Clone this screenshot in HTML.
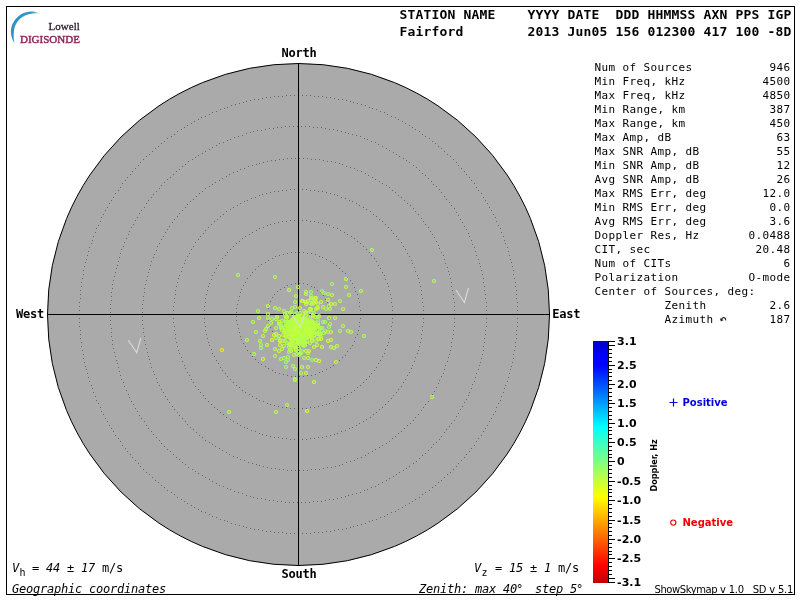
<!DOCTYPE html>
<html lang="en"><head><meta charset="utf-8"><title>Skymap - Fairford</title>
<style>
html,body{margin:0;padding:0;background:#fff;}
body{width:800px;height:600px;overflow:hidden;position:relative;}
svg{position:absolute;left:0;top:0;display:block;will-change:transform;}
text{white-space:pre;}
.hd{font-family:"DejaVu Sans Mono","Liberation Mono",monospace;font-weight:bold;font-size:13px;fill:#000;}
.nsew{font-family:"DejaVu Sans Mono","Liberation Mono",monospace;font-weight:bold;font-size:12px;fill:#000;}
.tb{font-family:"DejaVu Sans Mono","Liberation Mono",monospace;font-size:11px;fill:#000;}
.it{font-family:"DejaVu Sans Mono","Liberation Mono",monospace;font-size:12px;font-style:italic;fill:#000;}
.rg{font-family:"DejaVu Sans Mono","Liberation Mono",monospace;font-size:12px;fill:#000;}
.sb{font-family:"DejaVu Sans Mono","Liberation Mono",monospace;font-size:10px;fill:#000;}
.cb{font-family:"DejaVu Sans","Liberation Sans",sans-serif;font-weight:bold;font-size:11px;fill:#000;}
.lg{font-family:"DejaVu Sans","Liberation Sans",sans-serif;font-weight:bold;font-size:10px;}
.ft{font-family:"DejaVu Sans","Liberation Sans",sans-serif;font-size:10px;letter-spacing:-0.23px;fill:#000;}
.dp{font-family:"DejaVu Sans Condensed","DejaVu Sans","Liberation Sans",sans-serif;font-weight:bold;font-size:9px;fill:#000;}
.lw{font-family:"Liberation Serif",serif;font-size:11px;}
.pt circle{fill:none;stroke-width:1.15;}
</style></head><body>
<svg width="800" height="600" viewBox="0 0 800 600">
<rect x="0" y="0" width="800" height="600" fill="#ffffff"/>
<rect x="6.5" y="6.5" width="788" height="588" fill="none" stroke="#000" stroke-width="1" shape-rendering="crispEdges"/>
<g id="logo">
<defs><linearGradient id="sw" x1="0" y1="0" x2="1" y2="0"><stop offset="0" stop-color="#2f93c2"/><stop offset="0.75" stop-color="#3398c6"/><stop offset="1" stop-color="#8cc8e2"/></linearGradient></defs>
<path d="M38.9,13.3 C33,10.2 25.5,11 20,14.9 C14,19.2 10.4,26 10.9,32.5 C11.2,36.5 12.4,40 14.4,43 C13.7,39.5 13.5,35.5 13.9,31.5 C14.5,25.5 17.2,20.6 21.7,17.4 C26.5,13.9 32.5,13 38.9,13.3 Z" fill="url(#sw)"/>
<text class="lw" x="48.6" y="30.2" fill="#33232e" stroke="#33232e" stroke-width="0.3">Lowell</text>
<text class="lw" x="20" y="42.5" fill="#8c2458" stroke="#8c2458" stroke-width="0.45">DIGISONDE</text>
</g>
<text class="hd" x="399.4 407.4 415.4 423.4 431.4 439.4 447.4 455.4 463.4 471.4 479.4 487.4 495.4 503.4 511.4 519.4 527.4 535.4 543.4 551.4 559.4 567.4 575.4 583.4 591.4 599.4 607.4 615.4 623.4 631.4 639.4 647.4 655.4 663.4 671.4 679.4 687.4 695.4 703.4 711.4 719.4 727.4 735.4 743.4 751.4 759.4 767.4 775.4 783.4" y="19">STATION NAME    YYYY DATE  DDD HHMMSS AXN PPS IGP</text>
<text class="hd" x="399.4 407.4 415.4 423.4 431.4 439.4 447.4 455.4 463.4 471.4 479.4 487.4 495.4 503.4 511.4 519.4 527.4 535.4 543.4 551.4 559.4 567.4 575.4 583.4 591.4 599.4 607.4 615.4 623.4 631.4 639.4 647.4 655.4 663.4 671.4 679.4 687.4 695.4 703.4 711.4 719.4 727.4 735.4 743.4 751.4 759.4 767.4 775.4 783.4" y="36">Fairford        2013 Jun05 156 012300 417 100 -8D</text>
<circle cx="298.5" cy="314.5" r="251" fill="#aaaaaa" stroke="#000" stroke-width="1"/>
<path d="M329,314.5h1M329,318.5h1M328,322.5h1M327,326.5h1M325,329.5h1M323,333.5h1M320,336.5h1M317,338.5h1M314,341.5h1M311,342.5h1M307,344.5h1M303,345.5h1M299,345.5h1M295,345.5h1M291,344.5h1M287,343.5h1M284,341.5h1M280,339.5h1M277,337.5h1M274,334.5h1M272,331.5h1M270,327.5h1M269,324.5h1M268,320.5h1M267,316.5h1M267,312.5h1M268,308.5h1M269,304.5h1M270,301.5h1M272,297.5h1M274,294.5h1M277,291.5h1M280,289.5h1M284,287.5h1M287,285.5h1M291,284.5h1M295,283.5h1M299,283.5h1M303,283.5h1M307,284.5h1M311,286.5h1M314,287.5h1M317,290.5h1M320,292.5h1M323,295.5h1M325,299.5h1M327,302.5h1M328,306.5h1M329,310.5h1M360,314.5h1M360,318.5h1M359,322.5h1M359,326.5h1M358,330.5h1M357,334.5h1M355,337.5h1M354,341.5h1M352,345.5h1M350,348.5h1M347,351.5h1M345,355.5h1M342,357.5h1M339,360.5h1M336,363.5h1M333,365.5h1M330,367.5h1M326,369.5h1M322,371.5h1M319,372.5h1M315,374.5h1M311,375.5h1M307,375.5h1M303,376.5h1M299,376.5h1M295,376.5h1M291,376.5h1M287,375.5h1M283,374.5h1M279,373.5h1M275,372.5h1M272,370.5h1M268,368.5h1M265,366.5h1M261,364.5h1M258,362.5h1M255,359.5h1M252,356.5h1M250,353.5h1M247,350.5h1M245,346.5h1M243,343.5h1M241,339.5h1M240,336.5h1M239,332.5h1M238,328.5h1M237,324.5h1M236,320.5h1M236,316.5h1M236,312.5h1M236,308.5h1M237,304.5h1M238,300.5h1M239,296.5h1M240,292.5h1M241,289.5h1M243,285.5h1M245,282.5h1M247,278.5h1M250,275.5h1M252,272.5h1M255,269.5h1M258,266.5h1M261,264.5h1M265,262.5h1M268,260.5h1M272,258.5h1M275,256.5h1M279,255.5h1M283,254.5h1M287,253.5h1M291,252.5h1M295,252.5h1M299,252.5h1M303,252.5h1M307,253.5h1M311,253.5h1M315,254.5h1M319,256.5h1M322,257.5h1M326,259.5h1M330,261.5h1M333,263.5h1M336,265.5h1M339,268.5h1M342,271.5h1M345,273.5h1M347,277.5h1M350,280.5h1M352,283.5h1M354,287.5h1M355,291.5h1M357,294.5h1M358,298.5h1M359,302.5h1M359,306.5h1M360,310.5h1M392,314.5h1M392,318.5h1M392,322.5h1M391,326.5h1M391,330.5h1M390,334.5h1M389,338.5h1M388,342.5h1M387,345.5h1M385,349.5h1M384,353.5h1M382,356.5h1M380,360.5h1M378,363.5h1M376,367.5h1M374,370.5h1M371,373.5h1M369,376.5h1M366,379.5h1M363,382.5h1M360,385.5h1M357,387.5h1M354,390.5h1M351,392.5h1M347,394.5h1M344,396.5h1M340,398.5h1M337,400.5h1M333,401.5h1M329,403.5h1M326,404.5h1M322,405.5h1M318,406.5h1M314,407.5h1M310,407.5h1M306,408.5h1M302,408.5h1M298,408.5h1M294,408.5h1M290,408.5h1M286,407.5h1M282,407.5h1M278,406.5h1M274,405.5h1M270,404.5h1M267,403.5h1M263,401.5h1M259,400.5h1M256,398.5h1M252,396.5h1M249,394.5h1M245,392.5h1M242,390.5h1M239,387.5h1M236,385.5h1M233,382.5h1M230,379.5h1M227,376.5h1M225,373.5h1M222,370.5h1M220,367.5h1M218,363.5h1M216,360.5h1M214,356.5h1M212,353.5h1M211,349.5h1M209,345.5h1M208,342.5h1M207,338.5h1M206,334.5h1M205,330.5h1M205,326.5h1M204,322.5h1M204,318.5h1M204,314.5h1M204,310.5h1M204,306.5h1M205,302.5h1M205,298.5h1M206,294.5h1M207,290.5h1M208,286.5h1M209,283.5h1M211,279.5h1M212,275.5h1M214,272.5h1M216,268.5h1M218,265.5h1M220,261.5h1M222,258.5h1M225,255.5h1M227,252.5h1M230,249.5h1M233,246.5h1M236,243.5h1M239,241.5h1M242,238.5h1M245,236.5h1M249,234.5h1M252,232.5h1M256,230.5h1M259,228.5h1M263,227.5h1M267,225.5h1M270,224.5h1M274,223.5h1M278,222.5h1M282,221.5h1M286,221.5h1M290,220.5h1M294,220.5h1M298,220.5h1M302,220.5h1M306,220.5h1M310,221.5h1M314,221.5h1M318,222.5h1M322,223.5h1M326,224.5h1M329,225.5h1M333,227.5h1M337,228.5h1M340,230.5h1M344,232.5h1M347,234.5h1M351,236.5h1M354,238.5h1M357,241.5h1M360,243.5h1M363,246.5h1M366,249.5h1M369,252.5h1M371,255.5h1M374,258.5h1M376,261.5h1M378,265.5h1M380,268.5h1M382,272.5h1M384,275.5h1M385,279.5h1M387,283.5h1M388,286.5h1M389,290.5h1M390,294.5h1M391,298.5h1M391,302.5h1M392,306.5h1M392,310.5h1M423,314.5h1M423,318.5h1M423,322.5h1M422,326.5h1M422,330.5h1M421,334.5h1M421,338.5h1M420,342.5h1M419,346.5h1M418,350.5h1M417,353.5h1M415,357.5h1M414,361.5h1M412,365.5h1M411,368.5h1M409,372.5h1M407,375.5h1M405,379.5h1M403,382.5h1M401,386.5h1M398,389.5h1M396,392.5h1M393,395.5h1M391,398.5h1M388,401.5h1M385,404.5h1M382,407.5h1M379,409.5h1M376,412.5h1M373,414.5h1M370,417.5h1M366,419.5h1M363,421.5h1M359,423.5h1M356,425.5h1M352,427.5h1M349,428.5h1M345,430.5h1M341,431.5h1M337,433.5h1M334,434.5h1M330,435.5h1M326,436.5h1M322,437.5h1M318,437.5h1M314,438.5h1M310,438.5h1M306,439.5h1M302,439.5h1M298,439.5h1M294,439.5h1M290,439.5h1M286,438.5h1M282,438.5h1M278,437.5h1M274,437.5h1M270,436.5h1M266,435.5h1M262,434.5h1M259,433.5h1M255,431.5h1M251,430.5h1M247,428.5h1M244,427.5h1M240,425.5h1M237,423.5h1M233,421.5h1M230,419.5h1M226,417.5h1M223,414.5h1M220,412.5h1M217,409.5h1M214,407.5h1M211,404.5h1M208,401.5h1M205,398.5h1M203,395.5h1M200,392.5h1M198,389.5h1M195,386.5h1M193,382.5h1M191,379.5h1M189,375.5h1M187,372.5h1M185,368.5h1M184,365.5h1M182,361.5h1M181,357.5h1M179,353.5h1M178,350.5h1M177,346.5h1M176,342.5h1M175,338.5h1M175,334.5h1M174,330.5h1M174,326.5h1M173,322.5h1M173,318.5h1M173,314.5h1M173,310.5h1M173,306.5h1M174,302.5h1M174,298.5h1M175,294.5h1M175,290.5h1M176,286.5h1M177,282.5h1M178,278.5h1M179,275.5h1M181,271.5h1M182,267.5h1M184,263.5h1M185,260.5h1M187,256.5h1M189,253.5h1M191,249.5h1M193,246.5h1M195,242.5h1M198,239.5h1M200,236.5h1M203,233.5h1M205,230.5h1M208,227.5h1M211,224.5h1M214,221.5h1M217,219.5h1M220,216.5h1M223,214.5h1M226,211.5h1M230,209.5h1M233,207.5h1M237,205.5h1M240,203.5h1M244,201.5h1M247,200.5h1M251,198.5h1M255,197.5h1M259,195.5h1M262,194.5h1M266,193.5h1M270,192.5h1M274,191.5h1M278,191.5h1M282,190.5h1M286,190.5h1M290,189.5h1M294,189.5h1M298,189.5h1M302,189.5h1M306,189.5h1M310,190.5h1M314,190.5h1M318,191.5h1M322,191.5h1M326,192.5h1M330,193.5h1M334,194.5h1M337,195.5h1M341,197.5h1M345,198.5h1M349,200.5h1M352,201.5h1M356,203.5h1M359,205.5h1M363,207.5h1M366,209.5h1M370,211.5h1M373,214.5h1M376,216.5h1M379,219.5h1M382,221.5h1M385,224.5h1M388,227.5h1M391,230.5h1M393,233.5h1M396,236.5h1M398,239.5h1M401,242.5h1M403,246.5h1M405,249.5h1M407,253.5h1M409,256.5h1M411,260.5h1M412,263.5h1M414,267.5h1M415,271.5h1M417,275.5h1M418,278.5h1M419,282.5h1M420,286.5h1M421,290.5h1M421,294.5h1M422,298.5h1M422,302.5h1M423,306.5h1M423,310.5h1M454,314.5h1M454,318.5h1M454,322.5h1M454,326.5h1M453,330.5h1M453,334.5h1M452,338.5h1M451,342.5h1M451,346.5h1M450,350.5h1M449,354.5h1M448,357.5h1M447,361.5h1M445,365.5h1M444,369.5h1M443,373.5h1M441,376.5h1M439,380.5h1M438,383.5h1M436,387.5h1M434,391.5h1M432,394.5h1M430,397.5h1M428,401.5h1M425,404.5h1M423,407.5h1M421,410.5h1M418,414.5h1M415,417.5h1M413,420.5h1M410,423.5h1M407,425.5h1M404,428.5h1M401,431.5h1M398,433.5h1M395,436.5h1M392,438.5h1M389,441.5h1M386,443.5h1M382,445.5h1M379,447.5h1M375,449.5h1M372,451.5h1M368,453.5h1M365,455.5h1M361,457.5h1M357,458.5h1M354,460.5h1M350,461.5h1M346,462.5h1M342,464.5h1M339,465.5h1M335,466.5h1M331,467.5h1M327,467.5h1M323,468.5h1M319,469.5h1M315,469.5h1M311,469.5h1M307,470.5h1M303,470.5h1M299,470.5h1M295,470.5h1M291,470.5h1M287,470.5h1M283,469.5h1M279,469.5h1M275,468.5h1M271,468.5h1M267,467.5h1M263,466.5h1M259,465.5h1M256,464.5h1M252,463.5h1M248,462.5h1M244,460.5h1M240,459.5h1M237,457.5h1M233,456.5h1M229,454.5h1M226,452.5h1M222,450.5h1M219,448.5h1M215,446.5h1M212,444.5h1M209,442.5h1M205,440.5h1M202,437.5h1M199,435.5h1M196,432.5h1M193,429.5h1M190,427.5h1M187,424.5h1M185,421.5h1M182,418.5h1M179,415.5h1M177,412.5h1M174,409.5h1M172,406.5h1M169,402.5h1M167,399.5h1M165,396.5h1M163,392.5h1M161,389.5h1M159,385.5h1M157,382.5h1M156,378.5h1M154,374.5h1M153,371.5h1M151,367.5h1M150,363.5h1M149,359.5h1M148,356.5h1M147,352.5h1M146,348.5h1M145,344.5h1M144,340.5h1M144,336.5h1M143,332.5h1M143,328.5h1M142,324.5h1M142,320.5h1M142,316.5h1M142,312.5h1M142,308.5h1M142,304.5h1M143,300.5h1M143,296.5h1M144,292.5h1M144,288.5h1M145,284.5h1M146,280.5h1M147,276.5h1M148,272.5h1M149,269.5h1M150,265.5h1M151,261.5h1M153,257.5h1M154,254.5h1M156,250.5h1M157,246.5h1M159,243.5h1M161,239.5h1M163,236.5h1M165,232.5h1M167,229.5h1M169,226.5h1M172,222.5h1M174,219.5h1M177,216.5h1M179,213.5h1M182,210.5h1M185,207.5h1M187,204.5h1M190,201.5h1M193,199.5h1M196,196.5h1M199,193.5h1M202,191.5h1M205,188.5h1M209,186.5h1M212,184.5h1M215,182.5h1M219,180.5h1M222,178.5h1M226,176.5h1M229,174.5h1M233,172.5h1M237,171.5h1M240,169.5h1M244,168.5h1M248,166.5h1M252,165.5h1M256,164.5h1M259,163.5h1M263,162.5h1M267,161.5h1M271,160.5h1M275,160.5h1M279,159.5h1M283,159.5h1M287,158.5h1M291,158.5h1M295,158.5h1M299,158.5h1M303,158.5h1M307,158.5h1M311,159.5h1M315,159.5h1M319,159.5h1M323,160.5h1M327,161.5h1M331,161.5h1M335,162.5h1M339,163.5h1M342,164.5h1M346,166.5h1M350,167.5h1M354,168.5h1M357,170.5h1M361,171.5h1M365,173.5h1M368,175.5h1M372,177.5h1M375,179.5h1M379,181.5h1M382,183.5h1M386,185.5h1M389,187.5h1M392,190.5h1M395,192.5h1M398,195.5h1M401,197.5h1M404,200.5h1M407,203.5h1M410,205.5h1M413,208.5h1M415,211.5h1M418,214.5h1M421,218.5h1M423,221.5h1M425,224.5h1M428,227.5h1M430,231.5h1M432,234.5h1M434,237.5h1M436,241.5h1M438,245.5h1M439,248.5h1M441,252.5h1M443,255.5h1M444,259.5h1M445,263.5h1M447,267.5h1M448,271.5h1M449,274.5h1M450,278.5h1M451,282.5h1M451,286.5h1M452,290.5h1M453,294.5h1M453,298.5h1M454,302.5h1M454,306.5h1M454,310.5h1M486,314.5h1M486,318.5h1M486,322.5h1M486,326.5h1M485,330.5h1M485,334.5h1M484,338.5h1M484,342.5h1M483,346.5h1M483,350.5h1M482,354.5h1M481,358.5h1M480,362.5h1M479,365.5h1M478,369.5h1M476,373.5h1M475,377.5h1M474,381.5h1M472,384.5h1M471,388.5h1M469,392.5h1M468,395.5h1M466,399.5h1M464,402.5h1M462,406.5h1M460,409.5h1M458,413.5h1M456,416.5h1M454,420.5h1M451,423.5h1M449,426.5h1M446,429.5h1M444,432.5h1M441,436.5h1M439,439.5h1M436,442.5h1M433,444.5h1M431,447.5h1M428,450.5h1M425,453.5h1M422,455.5h1M419,458.5h1M416,461.5h1M413,463.5h1M409,466.5h1M406,468.5h1M403,470.5h1M399,472.5h1M396,474.5h1M393,476.5h1M389,478.5h1M386,480.5h1M382,482.5h1M378,484.5h1M375,486.5h1M371,487.5h1M367,489.5h1M364,490.5h1M360,492.5h1M356,493.5h1M352,494.5h1M348,495.5h1M345,496.5h1M341,497.5h1M337,498.5h1M333,499.5h1M329,499.5h1M325,500.5h1M321,501.5h1M317,501.5h1M313,501.5h1M309,502.5h1M305,502.5h1M301,502.5h1M297,502.5h1M293,502.5h1M289,502.5h1M285,502.5h1M281,501.5h1M277,501.5h1M273,500.5h1M269,500.5h1M265,499.5h1M261,498.5h1M257,498.5h1M253,497.5h1M250,496.5h1M246,495.5h1M242,493.5h1M238,492.5h1M234,491.5h1M230,489.5h1M227,488.5h1M223,486.5h1M219,485.5h1M216,483.5h1M212,481.5h1M209,479.5h1M205,477.5h1M202,475.5h1M198,473.5h1M195,471.5h1M192,469.5h1M188,467.5h1M185,464.5h1M182,462.5h1M179,459.5h1M176,457.5h1M173,454.5h1M170,451.5h1M167,449.5h1M164,446.5h1M161,443.5h1M159,440.5h1M156,437.5h1M153,434.5h1M151,431.5h1M148,428.5h1M146,425.5h1M144,421.5h1M141,418.5h1M139,415.5h1M137,411.5h1M135,408.5h1M133,404.5h1M131,401.5h1M129,397.5h1M128,394.5h1M126,390.5h1M124,386.5h1M123,382.5h1M121,379.5h1M120,375.5h1M119,371.5h1M118,367.5h1M117,363.5h1M116,360.5h1M115,356.5h1M114,352.5h1M113,348.5h1M112,344.5h1M112,340.5h1M111,336.5h1M111,332.5h1M111,328.5h1M110,324.5h1M110,320.5h1M110,316.5h1M110,312.5h1M110,308.5h1M110,304.5h1M111,300.5h1M111,296.5h1M111,292.5h1M112,288.5h1M112,284.5h1M113,280.5h1M114,276.5h1M115,272.5h1M116,268.5h1M117,265.5h1M118,261.5h1M119,257.5h1M120,253.5h1M121,249.5h1M123,246.5h1M124,242.5h1M126,238.5h1M128,234.5h1M129,231.5h1M131,227.5h1M133,224.5h1M135,220.5h1M137,217.5h1M139,213.5h1M141,210.5h1M144,207.5h1M146,203.5h1M148,200.5h1M151,197.5h1M153,194.5h1M156,191.5h1M159,188.5h1M161,185.5h1M164,182.5h1M167,179.5h1M170,177.5h1M173,174.5h1M176,171.5h1M179,169.5h1M182,166.5h1M185,164.5h1M188,161.5h1M192,159.5h1M195,157.5h1M198,155.5h1M202,153.5h1M205,151.5h1M209,149.5h1M212,147.5h1M216,145.5h1M219,143.5h1M223,142.5h1M227,140.5h1M230,139.5h1M234,137.5h1M238,136.5h1M242,135.5h1M246,133.5h1M250,132.5h1M253,131.5h1M257,130.5h1M261,130.5h1M265,129.5h1M269,128.5h1M273,128.5h1M277,127.5h1M281,127.5h1M285,126.5h1M289,126.5h1M293,126.5h1M297,126.5h1M301,126.5h1M305,126.5h1M309,126.5h1M313,127.5h1M317,127.5h1M321,127.5h1M325,128.5h1M329,129.5h1M333,129.5h1M337,130.5h1M341,131.5h1M345,132.5h1M348,133.5h1M352,134.5h1M356,135.5h1M360,136.5h1M364,138.5h1M367,139.5h1M371,141.5h1M375,142.5h1M378,144.5h1M382,146.5h1M386,148.5h1M389,150.5h1M393,152.5h1M396,154.5h1M399,156.5h1M403,158.5h1M406,160.5h1M409,162.5h1M413,165.5h1M416,167.5h1M419,170.5h1M422,173.5h1M425,175.5h1M428,178.5h1M431,181.5h1M433,184.5h1M436,186.5h1M439,189.5h1M441,192.5h1M444,196.5h1M446,199.5h1M449,202.5h1M451,205.5h1M454,208.5h1M456,212.5h1M458,215.5h1M460,219.5h1M462,222.5h1M464,226.5h1M466,229.5h1M468,233.5h1M469,236.5h1M471,240.5h1M472,244.5h1M474,247.5h1M475,251.5h1M476,255.5h1M478,259.5h1M479,263.5h1M480,266.5h1M481,270.5h1M482,274.5h1M483,278.5h1M483,282.5h1M484,286.5h1M484,290.5h1M485,294.5h1M485,298.5h1M486,302.5h1M486,306.5h1M486,310.5h1M517,314.5h1M517,318.5h1M517,322.5h1M517,326.5h1M516,330.5h1M516,334.5h1M516,338.5h1M515,342.5h1M515,346.5h1M514,350.5h1M513,354.5h1M513,358.5h1M512,362.5h1M511,366.5h1M510,369.5h1M509,373.5h1M508,377.5h1M507,381.5h1M505,385.5h1M504,388.5h1M503,392.5h1M501,396.5h1M500,400.5h1M498,403.5h1M496,407.5h1M495,411.5h1M493,414.5h1M491,418.5h1M489,421.5h1M487,425.5h1M485,428.5h1M483,431.5h1M481,435.5h1M478,438.5h1M476,441.5h1M474,445.5h1M471,448.5h1M469,451.5h1M466,454.5h1M464,457.5h1M461,460.5h1M458,463.5h1M456,466.5h1M453,469.5h1M450,472.5h1M447,474.5h1M444,477.5h1M441,480.5h1M438,482.5h1M435,485.5h1M432,487.5h1M429,490.5h1M425,492.5h1M422,494.5h1M419,497.5h1M415,499.5h1M412,501.5h1M409,503.5h1M405,505.5h1M402,507.5h1M398,509.5h1M395,511.5h1M391,512.5h1M387,514.5h1M384,516.5h1M380,517.5h1M376,519.5h1M372,520.5h1M369,521.5h1M365,523.5h1M361,524.5h1M357,525.5h1M353,526.5h1M350,527.5h1M346,528.5h1M342,529.5h1M338,529.5h1M334,530.5h1M330,531.5h1M326,531.5h1M322,532.5h1M318,532.5h1M314,532.5h1M310,533.5h1M306,533.5h1M302,533.5h1M298,533.5h1M294,533.5h1M290,533.5h1M286,533.5h1M282,532.5h1M278,532.5h1M274,532.5h1M270,531.5h1M266,531.5h1M262,530.5h1M258,529.5h1M254,529.5h1M250,528.5h1M246,527.5h1M243,526.5h1M239,525.5h1M235,524.5h1M231,523.5h1M227,521.5h1M224,520.5h1M220,519.5h1M216,517.5h1M212,516.5h1M209,514.5h1M205,512.5h1M201,511.5h1M198,509.5h1M194,507.5h1M191,505.5h1M187,503.5h1M184,501.5h1M181,499.5h1M177,497.5h1M174,494.5h1M171,492.5h1M167,490.5h1M164,487.5h1M161,485.5h1M158,482.5h1M155,480.5h1M152,477.5h1M149,474.5h1M146,472.5h1M143,469.5h1M140,466.5h1M138,463.5h1M135,460.5h1M132,457.5h1M130,454.5h1M127,451.5h1M125,448.5h1M122,445.5h1M120,441.5h1M118,438.5h1M115,435.5h1M113,431.5h1M111,428.5h1M109,425.5h1M107,421.5h1M105,418.5h1M103,414.5h1M101,411.5h1M100,407.5h1M98,403.5h1M96,400.5h1M95,396.5h1M93,392.5h1M92,388.5h1M91,385.5h1M89,381.5h1M88,377.5h1M87,373.5h1M86,369.5h1M85,366.5h1M84,362.5h1M83,358.5h1M83,354.5h1M82,350.5h1M81,346.5h1M81,342.5h1M80,338.5h1M80,334.5h1M80,330.5h1M79,326.5h1M79,322.5h1M79,318.5h1M79,314.5h1M79,310.5h1M79,306.5h1M79,302.5h1M80,298.5h1M80,294.5h1M80,290.5h1M81,286.5h1M81,282.5h1M82,278.5h1M83,274.5h1M83,270.5h1M84,266.5h1M85,262.5h1M86,259.5h1M87,255.5h1M88,251.5h1M89,247.5h1M91,243.5h1M92,240.5h1M93,236.5h1M95,232.5h1M96,228.5h1M98,225.5h1M100,221.5h1M101,217.5h1M103,214.5h1M105,210.5h1M107,207.5h1M109,203.5h1M111,200.5h1M113,197.5h1M115,193.5h1M118,190.5h1M120,187.5h1M122,183.5h1M125,180.5h1M127,177.5h1M130,174.5h1M132,171.5h1M135,168.5h1M138,165.5h1M140,162.5h1M143,159.5h1M146,156.5h1M149,154.5h1M152,151.5h1M155,148.5h1M158,146.5h1M161,143.5h1M164,141.5h1M167,138.5h1M171,136.5h1M174,134.5h1M177,131.5h1M181,129.5h1M184,127.5h1M187,125.5h1M191,123.5h1M194,121.5h1M198,119.5h1M201,117.5h1M205,116.5h1M209,114.5h1M212,112.5h1M216,111.5h1M220,109.5h1M224,108.5h1M227,107.5h1M231,105.5h1M235,104.5h1M239,103.5h1M243,102.5h1M246,101.5h1M250,100.5h1M254,99.5h1M258,99.5h1M262,98.5h1M266,97.5h1M270,97.5h1M274,96.5h1M278,96.5h1M282,96.5h1M286,95.5h1M290,95.5h1M294,95.5h1M298,95.5h1M302,95.5h1M306,95.5h1M310,95.5h1M314,96.5h1M318,96.5h1M322,96.5h1M326,97.5h1M330,97.5h1M334,98.5h1M338,99.5h1M342,99.5h1M346,100.5h1M350,101.5h1M353,102.5h1M357,103.5h1M361,104.5h1M365,105.5h1M369,107.5h1M372,108.5h1M376,109.5h1M380,111.5h1M384,112.5h1M387,114.5h1M391,116.5h1M395,117.5h1M398,119.5h1M402,121.5h1M405,123.5h1M409,125.5h1M412,127.5h1M415,129.5h1M419,131.5h1M422,134.5h1M425,136.5h1M429,138.5h1M432,141.5h1M435,143.5h1M438,146.5h1M441,148.5h1M444,151.5h1M447,154.5h1M450,156.5h1M453,159.5h1M456,162.5h1M458,165.5h1M461,168.5h1M464,171.5h1M466,174.5h1M469,177.5h1M471,180.5h1M474,183.5h1M476,187.5h1M478,190.5h1M481,193.5h1M483,197.5h1M485,200.5h1M487,203.5h1M489,207.5h1M491,210.5h1M493,214.5h1M495,217.5h1M496,221.5h1M498,225.5h1M500,228.5h1M501,232.5h1M503,236.5h1M504,240.5h1M505,243.5h1M507,247.5h1M508,251.5h1M509,255.5h1M510,259.5h1M511,262.5h1M512,266.5h1M513,270.5h1M513,274.5h1M514,278.5h1M515,282.5h1M515,286.5h1M516,290.5h1M516,294.5h1M516,298.5h1M517,302.5h1M517,306.5h1M517,310.5h1" stroke="#646464" stroke-width="1" fill="none" shape-rendering="crispEdges"/>
<line x1="47" y1="314.5" x2="550" y2="314.5" stroke="#000" stroke-width="1" shape-rendering="crispEdges"/>
<line x1="298.5" y1="63" x2="298.5" y2="566" stroke="#000" stroke-width="1" shape-rendering="crispEdges"/>
<g class="pt">
<circle cx="297" cy="333" r="1.5" stroke="#acff53"/><circle cx="314" cy="333" r="1.5" stroke="#bdff42"/><circle cx="314" cy="332" r="1.5" stroke="#d0ff2f"/><circle cx="296" cy="329" r="1.5" stroke="#cdff32"/><circle cx="279" cy="336" r="1.5" stroke="#cbff34"/><circle cx="303" cy="341" r="1.5" stroke="#9bff64"/><circle cx="289" cy="323" r="1.5" stroke="#9aff65"/><circle cx="324" cy="333" r="1.5" stroke="#c1ff3e"/><circle cx="304" cy="331" r="1.5" stroke="#c0ff3f"/><circle cx="303" cy="322" r="1.5" stroke="#b0ff4f"/><circle cx="292" cy="320" r="1.5" stroke="#b2ff4d"/><circle cx="304" cy="329" r="1.5" stroke="#c6ff39"/><circle cx="294" cy="318" r="1.5" stroke="#c0ff3f"/><circle cx="288" cy="322" r="1.5" stroke="#c0ff3f"/><circle cx="305" cy="313" r="1.5" stroke="#c4ff3b"/><circle cx="286" cy="322" r="1.5" stroke="#9fff60"/><circle cx="299" cy="319" r="1.5" stroke="#99ff66"/><circle cx="310" cy="335" r="1.5" stroke="#a6ff59"/><circle cx="308" cy="337" r="1.5" stroke="#d0ff2f"/><circle cx="290" cy="313" r="1.5" stroke="#b1ff4e"/><circle cx="308" cy="321" r="1.5" stroke="#aaff55"/><circle cx="286" cy="320" r="1.5" stroke="#b7ff48"/><circle cx="282" cy="330" r="1.5" stroke="#ceff31"/><circle cx="295" cy="314" r="1.5" stroke="#99ff66"/><circle cx="304" cy="320" r="1.5" stroke="#bcff43"/><circle cx="299" cy="326" r="1.5" stroke="#b7ff48"/><circle cx="303" cy="332" r="1.5" stroke="#ceff31"/><circle cx="301" cy="322" r="1.5" stroke="#c4ff3b"/><circle cx="280" cy="340" r="1.5" stroke="#cdff32"/><circle cx="285" cy="331" r="1.5" stroke="#9fff60"/><circle cx="311" cy="309" r="1.5" stroke="#c2ff3d"/><circle cx="290" cy="332" r="1.5" stroke="#9fff60"/><circle cx="307" cy="326" r="1.5" stroke="#c8ff37"/><circle cx="301" cy="335" r="1.5" stroke="#b6ff49"/><circle cx="292" cy="323" r="1.5" stroke="#d2ff2d"/><circle cx="290" cy="332" r="1.5" stroke="#b1ff4e"/><circle cx="318" cy="323" r="1.5" stroke="#b4ff4b"/><circle cx="286" cy="317" r="1.5" stroke="#cfff30"/><circle cx="318" cy="317" r="1.5" stroke="#9fff60"/><circle cx="304" cy="318" r="1.5" stroke="#bbff44"/><circle cx="314" cy="336" r="1.5" stroke="#ceff31"/><circle cx="308" cy="330" r="1.5" stroke="#c8ff37"/><circle cx="298" cy="330" r="1.5" stroke="#d2ff2d"/><circle cx="303" cy="331" r="1.5" stroke="#bdff42"/><circle cx="325" cy="331" r="1.5" stroke="#aeff51"/><circle cx="306" cy="334" r="1.5" stroke="#beff41"/><circle cx="296" cy="331" r="1.5" stroke="#a1ff5e"/><circle cx="314" cy="327" r="1.5" stroke="#b6ff49"/><circle cx="305" cy="330" r="1.5" stroke="#beff41"/><circle cx="298" cy="346" r="1.5" stroke="#c8ff37"/><circle cx="293" cy="327" r="1.5" stroke="#b2ff4d"/><circle cx="315" cy="330" r="1.5" stroke="#99ff66"/><circle cx="313" cy="316" r="1.5" stroke="#c3ff3c"/><circle cx="295" cy="332" r="1.5" stroke="#a5ff5a"/><circle cx="279" cy="324" r="1.5" stroke="#bfff40"/><circle cx="304" cy="346" r="1.5" stroke="#99ff66"/><circle cx="314" cy="313" r="1.5" stroke="#a3ff5c"/><circle cx="299" cy="320" r="1.5" stroke="#b4ff4b"/><circle cx="298" cy="329" r="1.5" stroke="#d0ff2f"/><circle cx="298" cy="335" r="1.5" stroke="#aaff55"/><circle cx="313" cy="325" r="1.5" stroke="#9cff63"/><circle cx="294" cy="333" r="1.5" stroke="#c5ff3a"/><circle cx="303" cy="334" r="1.5" stroke="#aeff51"/><circle cx="319" cy="316" r="1.5" stroke="#b6ff49"/><circle cx="287" cy="313" r="1.5" stroke="#cdff32"/><circle cx="304" cy="311" r="1.5" stroke="#b6ff49"/><circle cx="310" cy="343" r="1.5" stroke="#bfff40"/><circle cx="290" cy="334" r="1.5" stroke="#9bff64"/><circle cx="299" cy="321" r="1.5" stroke="#caff35"/><circle cx="302" cy="322" r="1.5" stroke="#a2ff5d"/><circle cx="318" cy="326" r="1.5" stroke="#beff41"/><circle cx="294" cy="326" r="1.5" stroke="#d1ff2e"/><circle cx="318" cy="325" r="1.5" stroke="#b3ff4c"/><circle cx="312" cy="323" r="1.5" stroke="#a0ff5f"/><circle cx="304" cy="321" r="1.5" stroke="#c3ff3c"/><circle cx="298" cy="335" r="1.5" stroke="#b0ff4f"/><circle cx="299" cy="338" r="1.5" stroke="#caff35"/><circle cx="310" cy="322" r="1.5" stroke="#b7ff48"/><circle cx="277" cy="317" r="1.5" stroke="#baff45"/><circle cx="313" cy="322" r="1.5" stroke="#b3ff4c"/><circle cx="298" cy="327" r="1.5" stroke="#b8ff47"/><circle cx="300" cy="328" r="1.5" stroke="#a4ff5b"/><circle cx="307" cy="338" r="1.5" stroke="#a8ff57"/><circle cx="290" cy="324" r="1.5" stroke="#b4ff4b"/><circle cx="279" cy="322" r="1.5" stroke="#ccff33"/><circle cx="291" cy="325" r="1.5" stroke="#c2ff3d"/><circle cx="302" cy="316" r="1.5" stroke="#b1ff4e"/><circle cx="284" cy="332" r="1.5" stroke="#b5ff4a"/><circle cx="281" cy="326" r="1.5" stroke="#b8ff47"/><circle cx="286" cy="325" r="1.5" stroke="#9cff63"/><circle cx="292" cy="308" r="1.5" stroke="#9cff63"/><circle cx="299" cy="340" r="1.5" stroke="#9bff64"/><circle cx="304" cy="323" r="1.5" stroke="#cbff34"/><circle cx="295" cy="329" r="1.5" stroke="#c4ff3b"/><circle cx="317" cy="334" r="1.5" stroke="#a5ff5a"/><circle cx="306" cy="324" r="1.5" stroke="#a9ff56"/><circle cx="296" cy="323" r="1.5" stroke="#9fff60"/><circle cx="309" cy="326" r="1.5" stroke="#9bff64"/><circle cx="288" cy="334" r="1.5" stroke="#99ff66"/><circle cx="304" cy="322" r="1.5" stroke="#b9ff46"/><circle cx="289" cy="327" r="1.5" stroke="#c6ff39"/><circle cx="292" cy="342" r="1.5" stroke="#d1ff2e"/><circle cx="287" cy="324" r="1.5" stroke="#d1ff2e"/><circle cx="291" cy="340" r="1.5" stroke="#b4ff4b"/><circle cx="308" cy="332" r="1.5" stroke="#cfff30"/><circle cx="302" cy="320" r="1.5" stroke="#caff35"/><circle cx="276" cy="338" r="1.5" stroke="#a3ff5c"/><circle cx="300" cy="333" r="1.5" stroke="#9dff62"/><circle cx="282" cy="321" r="1.5" stroke="#cdff32"/><circle cx="318" cy="333" r="1.5" stroke="#b9ff46"/><circle cx="285" cy="314" r="1.5" stroke="#cdff32"/><circle cx="303" cy="325" r="1.5" stroke="#a0ff5f"/><circle cx="289" cy="330" r="1.5" stroke="#b2ff4d"/><circle cx="309" cy="324" r="1.5" stroke="#caff35"/><circle cx="291" cy="326" r="1.5" stroke="#cbff34"/><circle cx="302" cy="330" r="1.5" stroke="#c6ff39"/><circle cx="296" cy="335" r="1.5" stroke="#a6ff59"/><circle cx="296" cy="339" r="1.5" stroke="#c8ff37"/><circle cx="299" cy="329" r="1.5" stroke="#c3ff3c"/><circle cx="320" cy="329" r="1.5" stroke="#b2ff4d"/><circle cx="305" cy="338" r="1.5" stroke="#9cff63"/><circle cx="318" cy="339" r="1.5" stroke="#b9ff46"/><circle cx="276" cy="328" r="1.5" stroke="#bbff44"/><circle cx="281" cy="327" r="1.5" stroke="#99ff66"/><circle cx="287" cy="343" r="1.5" stroke="#a9ff56"/><circle cx="292" cy="320" r="1.5" stroke="#beff41"/><circle cx="306" cy="329" r="1.5" stroke="#ceff31"/><circle cx="299" cy="320" r="1.5" stroke="#c8ff37"/><circle cx="321" cy="337" r="1.5" stroke="#a0ff5f"/><circle cx="295" cy="320" r="1.5" stroke="#c4ff3b"/><circle cx="296" cy="338" r="1.5" stroke="#c9ff36"/><circle cx="291" cy="330" r="1.5" stroke="#9aff65"/><circle cx="316" cy="325" r="1.5" stroke="#c4ff3b"/><circle cx="311" cy="326" r="1.5" stroke="#bdff42"/><circle cx="312" cy="328" r="1.5" stroke="#b6ff49"/><circle cx="292" cy="327" r="1.5" stroke="#b5ff4a"/><circle cx="310" cy="328" r="1.5" stroke="#cdff32"/><circle cx="297" cy="329" r="1.5" stroke="#d0ff2f"/><circle cx="297" cy="334" r="1.5" stroke="#b0ff4f"/><circle cx="280" cy="324" r="1.5" stroke="#acff53"/><circle cx="295" cy="307" r="1.5" stroke="#bbff44"/><circle cx="312" cy="340" r="1.5" stroke="#adff52"/><circle cx="323" cy="333" r="1.5" stroke="#9eff61"/><circle cx="286" cy="316" r="1.5" stroke="#a3ff5c"/><circle cx="310" cy="337" r="1.5" stroke="#b5ff4a"/><circle cx="311" cy="312" r="1.5" stroke="#a2ff5d"/><circle cx="277" cy="317" r="1.5" stroke="#aaff55"/><circle cx="297" cy="321" r="1.5" stroke="#d0ff2f"/><circle cx="308" cy="335" r="1.5" stroke="#ccff33"/><circle cx="308" cy="317" r="1.5" stroke="#aeff51"/><circle cx="287" cy="317" r="1.5" stroke="#b6ff49"/><circle cx="322" cy="328" r="1.5" stroke="#a7ff58"/><circle cx="285" cy="327" r="1.5" stroke="#acff53"/><circle cx="319" cy="334" r="1.5" stroke="#c3ff3c"/><circle cx="309" cy="331" r="1.5" stroke="#a8ff57"/><circle cx="306" cy="343" r="1.5" stroke="#9aff65"/><circle cx="288" cy="328" r="1.5" stroke="#b6ff49"/><circle cx="291" cy="312" r="1.5" stroke="#aeff51"/><circle cx="297" cy="324" r="1.5" stroke="#c9ff36"/><circle cx="299" cy="344" r="1.5" stroke="#c0ff3f"/><circle cx="298" cy="327" r="1.5" stroke="#ceff31"/><circle cx="298" cy="342" r="1.5" stroke="#aaff55"/><circle cx="295" cy="320" r="1.5" stroke="#b4ff4b"/><circle cx="286" cy="330" r="1.5" stroke="#cbff34"/><circle cx="307" cy="323" r="1.5" stroke="#99ff66"/><circle cx="302" cy="327" r="1.5" stroke="#b7ff48"/><circle cx="291" cy="330" r="1.5" stroke="#c6ff39"/><circle cx="308" cy="325" r="1.5" stroke="#b0ff4f"/><circle cx="310" cy="337" r="1.5" stroke="#9bff64"/><circle cx="316" cy="341" r="1.5" stroke="#b4ff4b"/><circle cx="315" cy="317" r="1.5" stroke="#c4ff3b"/><circle cx="312" cy="321" r="1.5" stroke="#d0ff2f"/><circle cx="315" cy="328" r="1.5" stroke="#b8ff47"/><circle cx="298" cy="333" r="1.5" stroke="#beff41"/><circle cx="290" cy="345" r="1.5" stroke="#d2ff2d"/><circle cx="300" cy="308" r="1.5" stroke="#cbff34"/><circle cx="318" cy="320" r="1.5" stroke="#9eff61"/><circle cx="297" cy="337" r="1.5" stroke="#bbff44"/><circle cx="317" cy="327" r="1.5" stroke="#bdff42"/><circle cx="291" cy="331" r="1.5" stroke="#cfff30"/><circle cx="319" cy="339" r="1.5" stroke="#c1ff3e"/><circle cx="309" cy="325" r="1.5" stroke="#c2ff3d"/><circle cx="292" cy="327" r="1.5" stroke="#bcff43"/><circle cx="325" cy="322" r="1.5" stroke="#a3ff5c"/><circle cx="315" cy="323" r="1.5" stroke="#a8ff57"/><circle cx="319" cy="332" r="1.5" stroke="#b8ff47"/><circle cx="300" cy="313" r="1.5" stroke="#c1ff3e"/><circle cx="310" cy="336" r="1.5" stroke="#beff41"/><circle cx="294" cy="343" r="1.5" stroke="#9aff65"/><circle cx="299" cy="342" r="1.5" stroke="#c0ff3f"/><circle cx="288" cy="324" r="1.5" stroke="#c8ff37"/><circle cx="304" cy="333" r="1.5" stroke="#9eff61"/><circle cx="291" cy="328" r="1.5" stroke="#9eff61"/><circle cx="314" cy="327" r="1.5" stroke="#caff35"/><circle cx="302" cy="332" r="1.5" stroke="#beff41"/><circle cx="308" cy="332" r="1.5" stroke="#c3ff3c"/><circle cx="276" cy="319" r="1.5" stroke="#a7ff58"/><circle cx="289" cy="333" r="1.5" stroke="#b4ff4b"/><circle cx="292" cy="334" r="1.5" stroke="#ceff31"/><circle cx="310" cy="336" r="1.5" stroke="#aeff51"/><circle cx="306" cy="322" r="1.5" stroke="#c2ff3d"/><circle cx="300" cy="338" r="1.5" stroke="#b8ff47"/><circle cx="323" cy="322" r="1.5" stroke="#9fff60"/><circle cx="303" cy="328" r="1.5" stroke="#a9ff56"/><circle cx="311" cy="321" r="1.5" stroke="#b0ff4f"/><circle cx="312" cy="328" r="1.5" stroke="#9cff63"/><circle cx="311" cy="310" r="1.5" stroke="#9aff65"/><circle cx="300" cy="332" r="1.5" stroke="#c9ff36"/><circle cx="281" cy="325" r="1.5" stroke="#9cff63"/><circle cx="297" cy="313" r="1.5" stroke="#a6ff59"/><circle cx="285" cy="331" r="1.5" stroke="#cfff30"/><circle cx="302" cy="320" r="1.5" stroke="#9dff62"/><circle cx="294" cy="321" r="1.5" stroke="#caff35"/><circle cx="300" cy="342" r="1.5" stroke="#aaff55"/><circle cx="304" cy="330" r="1.5" stroke="#b4ff4b"/><circle cx="289" cy="323" r="1.5" stroke="#c5ff3a"/><circle cx="299" cy="327" r="1.5" stroke="#c0ff3f"/><circle cx="284" cy="311" r="1.5" stroke="#b6ff49"/><circle cx="301" cy="335" r="1.5" stroke="#9aff65"/><circle cx="297" cy="319" r="1.5" stroke="#d1ff2e"/><circle cx="281" cy="328" r="1.5" stroke="#baff45"/><circle cx="299" cy="342" r="1.5" stroke="#9cff63"/><circle cx="300" cy="330" r="1.5" stroke="#beff41"/><circle cx="283" cy="335" r="1.5" stroke="#c6ff39"/><circle cx="306" cy="312" r="1.5" stroke="#b5ff4a"/><circle cx="291" cy="345" r="1.5" stroke="#c4ff3b"/><circle cx="304" cy="344" r="1.5" stroke="#c1ff3e"/><circle cx="314" cy="324" r="1.5" stroke="#c7ff38"/><circle cx="302" cy="338" r="1.5" stroke="#abff54"/><circle cx="307" cy="326" r="1.5" stroke="#bbff44"/><circle cx="303" cy="345" r="1.5" stroke="#c6ff39"/><circle cx="301" cy="330" r="1.5" stroke="#bdff42"/><circle cx="309" cy="322" r="1.5" stroke="#b1ff4e"/><circle cx="314" cy="329" r="1.5" stroke="#bfff40"/><circle cx="305" cy="342" r="1.5" stroke="#b0ff4f"/><circle cx="308" cy="331" r="1.5" stroke="#bdff42"/><circle cx="295" cy="333" r="1.5" stroke="#c5ff3a"/><circle cx="304" cy="330" r="1.5" stroke="#beff41"/><circle cx="302" cy="329" r="1.5" stroke="#a8ff57"/><circle cx="301" cy="335" r="1.5" stroke="#adff52"/><circle cx="302" cy="324" r="1.5" stroke="#c9ff36"/><circle cx="293" cy="330" r="1.5" stroke="#aaff55"/><circle cx="301" cy="335" r="1.5" stroke="#abff54"/><circle cx="305" cy="331" r="1.5" stroke="#aeff51"/><circle cx="299" cy="328" r="1.5" stroke="#caff35"/><circle cx="312" cy="334" r="1.5" stroke="#c2ff3d"/><circle cx="299" cy="317" r="1.5" stroke="#bfff40"/><circle cx="297" cy="344" r="1.5" stroke="#b5ff4a"/><circle cx="298" cy="339" r="1.5" stroke="#c0ff3f"/><circle cx="299" cy="330" r="1.5" stroke="#b0ff4f"/><circle cx="307" cy="325" r="1.5" stroke="#a9ff56"/><circle cx="304" cy="330" r="1.5" stroke="#baff45"/><circle cx="314" cy="326" r="1.5" stroke="#bdff42"/><circle cx="299" cy="336" r="1.5" stroke="#b9ff46"/><circle cx="303" cy="328" r="1.5" stroke="#aeff51"/><circle cx="298" cy="319" r="1.5" stroke="#afff50"/><circle cx="295" cy="326" r="1.5" stroke="#c0ff3f"/><circle cx="292" cy="337" r="1.5" stroke="#c8ff37"/><circle cx="302" cy="339" r="1.5" stroke="#c2ff3d"/><circle cx="301" cy="330" r="1.5" stroke="#b7ff48"/><circle cx="291" cy="344" r="1.5" stroke="#abff54"/><circle cx="304" cy="329" r="1.5" stroke="#c8ff37"/><circle cx="305" cy="333" r="1.5" stroke="#b1ff4e"/><circle cx="295" cy="331" r="1.5" stroke="#bcff43"/><circle cx="292" cy="324" r="1.5" stroke="#b0ff4f"/><circle cx="304" cy="322" r="1.5" stroke="#c7ff38"/><circle cx="302" cy="325" r="1.5" stroke="#b7ff48"/><circle cx="292" cy="336" r="1.5" stroke="#c4ff3b"/><circle cx="299" cy="334" r="1.5" stroke="#c6ff39"/><circle cx="305" cy="324" r="1.5" stroke="#bfff40"/><circle cx="283" cy="341" r="1.5" stroke="#b9ff46"/><circle cx="300" cy="340" r="1.5" stroke="#b4ff4b"/><circle cx="302" cy="329" r="1.5" stroke="#baff45"/><circle cx="304" cy="319" r="1.5" stroke="#aaff55"/><circle cx="304" cy="331" r="1.5" stroke="#c7ff38"/><circle cx="305" cy="344" r="1.5" stroke="#b6ff49"/><circle cx="305" cy="327" r="1.5" stroke="#acff53"/><circle cx="294" cy="331" r="1.5" stroke="#afff50"/><circle cx="302" cy="329" r="1.5" stroke="#b6ff49"/><circle cx="296" cy="327" r="1.5" stroke="#beff41"/><circle cx="302" cy="333" r="1.5" stroke="#c2ff3d"/><circle cx="292" cy="325" r="1.5" stroke="#c4ff3b"/><circle cx="305" cy="330" r="1.5" stroke="#b3ff4c"/><circle cx="301" cy="334" r="1.5" stroke="#c4ff3b"/><circle cx="301" cy="322" r="1.5" stroke="#c9ff36"/><circle cx="304" cy="333" r="1.5" stroke="#b7ff48"/><circle cx="297" cy="328" r="1.5" stroke="#c5ff3a"/><circle cx="297" cy="324" r="1.5" stroke="#c1ff3e"/><circle cx="293" cy="343" r="1.5" stroke="#c0ff3f"/><circle cx="294" cy="327" r="1.5" stroke="#bcff43"/><circle cx="313" cy="315" r="1.5" stroke="#beff41"/><circle cx="302" cy="338" r="1.5" stroke="#c4ff3b"/><circle cx="313" cy="330" r="1.5" stroke="#bcff43"/><circle cx="302" cy="324" r="1.5" stroke="#abff54"/><circle cx="295" cy="330" r="1.5" stroke="#cbff34"/><circle cx="290" cy="327" r="1.5" stroke="#aaff55"/><circle cx="306" cy="334" r="1.5" stroke="#beff41"/><circle cx="295" cy="329" r="1.5" stroke="#c1ff3e"/><circle cx="285" cy="328" r="1.5" stroke="#c7ff38"/><circle cx="288" cy="330" r="1.5" stroke="#a8ff57"/><circle cx="300" cy="332" r="1.5" stroke="#a9ff56"/><circle cx="306" cy="328" r="1.5" stroke="#c9ff36"/><circle cx="305" cy="327" r="1.5" stroke="#aaff55"/><circle cx="290" cy="322" r="1.5" stroke="#c5ff3a"/><circle cx="300" cy="325" r="1.5" stroke="#bdff42"/><circle cx="306" cy="321" r="1.5" stroke="#c5ff3a"/><circle cx="300" cy="335" r="1.5" stroke="#b8ff47"/><circle cx="297" cy="331" r="1.5" stroke="#c2ff3d"/><circle cx="297" cy="317" r="1.5" stroke="#caff35"/><circle cx="289" cy="326" r="1.5" stroke="#caff35"/><circle cx="301" cy="327" r="1.5" stroke="#b5ff4a"/><circle cx="291" cy="327" r="1.5" stroke="#c0ff3f"/><circle cx="292" cy="333" r="1.5" stroke="#bcff43"/><circle cx="295" cy="324" r="1.5" stroke="#bbff44"/><circle cx="308" cy="331" r="1.5" stroke="#b9ff46"/><circle cx="300" cy="339" r="1.5" stroke="#afff50"/><circle cx="295" cy="330" r="1.5" stroke="#baff45"/><circle cx="302" cy="331" r="1.5" stroke="#bcff43"/><circle cx="305" cy="333" r="1.5" stroke="#b9ff46"/><circle cx="308" cy="332" r="1.5" stroke="#c8ff37"/><circle cx="298" cy="319" r="1.5" stroke="#b9ff46"/><circle cx="306" cy="332" r="1.5" stroke="#beff41"/><circle cx="302" cy="329" r="1.5" stroke="#acff53"/><circle cx="309" cy="329" r="1.5" stroke="#aeff51"/><circle cx="305" cy="345" r="1.5" stroke="#b9ff46"/><circle cx="313" cy="326" r="1.5" stroke="#c5ff3a"/><circle cx="302" cy="316" r="1.5" stroke="#c9ff36"/><circle cx="293" cy="337" r="1.5" stroke="#c5ff3a"/><circle cx="303" cy="327" r="1.5" stroke="#aeff51"/><circle cx="304" cy="335" r="1.5" stroke="#aaff55"/><circle cx="300" cy="334" r="1.5" stroke="#b9ff46"/><circle cx="298" cy="331" r="1.5" stroke="#c5ff3a"/><circle cx="307" cy="341" r="1.5" stroke="#b3ff4c"/><circle cx="302" cy="327" r="1.5" stroke="#afff50"/><circle cx="305" cy="334" r="1.5" stroke="#b4ff4b"/><circle cx="291" cy="339" r="1.5" stroke="#b7ff48"/><circle cx="288" cy="324" r="1.5" stroke="#c7ff38"/><circle cx="308" cy="329" r="1.5" stroke="#bdff42"/><circle cx="300" cy="325" r="1.5" stroke="#a7ff58"/><circle cx="294" cy="327" r="1.5" stroke="#b0ff4f"/><circle cx="295" cy="331" r="1.5" stroke="#b0ff4f"/><circle cx="310" cy="333" r="1.5" stroke="#c2ff3d"/><circle cx="287" cy="317" r="1.5" stroke="#b6ff49"/><circle cx="296" cy="325" r="1.5" stroke="#cbff34"/><circle cx="303" cy="330" r="1.5" stroke="#b5ff4a"/><circle cx="292" cy="332" r="1.5" stroke="#abff54"/><circle cx="302" cy="333" r="1.5" stroke="#b4ff4b"/><circle cx="299" cy="330" r="1.5" stroke="#beff41"/><circle cx="304" cy="333" r="1.5" stroke="#c3ff3c"/><circle cx="292" cy="326" r="1.5" stroke="#c4ff3b"/><circle cx="294" cy="325" r="1.5" stroke="#c6ff39"/><circle cx="303" cy="328" r="1.5" stroke="#c6ff39"/><circle cx="306" cy="334" r="1.5" stroke="#acff53"/><circle cx="300" cy="324" r="1.5" stroke="#c2ff3d"/><circle cx="308" cy="330" r="1.5" stroke="#b7ff48"/><circle cx="294" cy="336" r="1.5" stroke="#bbff44"/><circle cx="308" cy="326" r="1.5" stroke="#c2ff3d"/><circle cx="301" cy="329" r="1.5" stroke="#b8ff47"/><circle cx="295" cy="332" r="1.5" stroke="#c9ff36"/><circle cx="299" cy="329" r="1.5" stroke="#b7ff48"/><circle cx="302" cy="328" r="1.5" stroke="#c4ff3b"/><circle cx="293" cy="325" r="1.5" stroke="#b4ff4b"/><circle cx="301" cy="326" r="1.5" stroke="#c0ff3f"/><circle cx="298" cy="331" r="1.5" stroke="#abff54"/><circle cx="301" cy="321" r="1.5" stroke="#cbff34"/><circle cx="305" cy="322" r="1.5" stroke="#baff45"/><circle cx="299" cy="323" r="1.5" stroke="#c3ff3c"/><circle cx="303" cy="332" r="1.5" stroke="#caff35"/><circle cx="294" cy="338" r="1.5" stroke="#b2ff4d"/><circle cx="305" cy="322" r="1.5" stroke="#c2ff3d"/><circle cx="293" cy="327" r="1.5" stroke="#afff50"/><circle cx="294" cy="329" r="1.5" stroke="#b4ff4b"/><circle cx="303" cy="329" r="1.5" stroke="#abff54"/><circle cx="304" cy="330" r="1.5" stroke="#c3ff3c"/><circle cx="298" cy="316" r="1.5" stroke="#b0ff4f"/><circle cx="293" cy="340" r="1.5" stroke="#bfff40"/><circle cx="300" cy="342" r="1.5" stroke="#b4ff4b"/><circle cx="296" cy="321" r="1.5" stroke="#a8ff57"/><circle cx="287" cy="332" r="1.5" stroke="#b2ff4d"/><circle cx="303" cy="325" r="1.5" stroke="#b1ff4e"/><circle cx="294" cy="327" r="1.5" stroke="#c4ff3b"/><circle cx="297" cy="328" r="1.5" stroke="#aaff55"/><circle cx="300" cy="331" r="1.5" stroke="#c7ff38"/><circle cx="304" cy="327" r="1.5" stroke="#c6ff39"/><circle cx="301" cy="330" r="1.5" stroke="#b2ff4d"/><circle cx="293" cy="323" r="1.5" stroke="#b1ff4e"/><circle cx="307" cy="333" r="1.5" stroke="#beff41"/><circle cx="304" cy="320" r="1.5" stroke="#abff54"/><circle cx="311" cy="334" r="1.5" stroke="#aaff55"/><circle cx="302" cy="329" r="1.5" stroke="#c4ff3b"/><circle cx="300" cy="330" r="1.5" stroke="#acff53"/><circle cx="302" cy="322" r="1.5" stroke="#adff52"/><circle cx="295" cy="326" r="1.5" stroke="#c8ff37"/><circle cx="308" cy="335" r="1.5" stroke="#c4ff3b"/><circle cx="296" cy="335" r="1.5" stroke="#caff35"/><circle cx="299" cy="334" r="1.5" stroke="#b1ff4e"/><circle cx="295" cy="333" r="1.5" stroke="#a8ff57"/><circle cx="287" cy="329" r="1.5" stroke="#b5ff4a"/><circle cx="305" cy="331" r="1.5" stroke="#bbff44"/><circle cx="300" cy="324" r="1.5" stroke="#b2ff4d"/><circle cx="295" cy="329" r="1.5" stroke="#acff53"/><circle cx="309" cy="335" r="1.5" stroke="#c5ff3a"/><circle cx="303" cy="330" r="1.5" stroke="#b0ff4f"/><circle cx="300" cy="329" r="1.5" stroke="#b9ff46"/><circle cx="288" cy="330" r="1.5" stroke="#c4ff3b"/><circle cx="293" cy="330" r="1.5" stroke="#adff52"/><circle cx="298" cy="343" r="1.5" stroke="#c1ff3e"/><circle cx="301" cy="338" r="1.5" stroke="#b9ff46"/><circle cx="306" cy="335" r="1.5" stroke="#c8ff37"/><circle cx="301" cy="321" r="1.5" stroke="#afff50"/><circle cx="295" cy="326" r="1.5" stroke="#bdff42"/><circle cx="289" cy="337" r="1.5" stroke="#c8ff37"/><circle cx="300" cy="329" r="1.5" stroke="#c4ff3b"/><circle cx="298" cy="342" r="1.5" stroke="#b9ff46"/><circle cx="290" cy="338" r="1.5" stroke="#c3ff3c"/><circle cx="291" cy="331" r="1.5" stroke="#b0ff4f"/><circle cx="299" cy="321" r="1.5" stroke="#bfff40"/><circle cx="297" cy="332" r="1.5" stroke="#adff52"/><circle cx="294" cy="321" r="1.5" stroke="#c5ff3a"/><circle cx="289" cy="333" r="1.5" stroke="#b6ff49"/><circle cx="304" cy="334" r="1.5" stroke="#abff54"/><circle cx="299" cy="333" r="1.5" stroke="#c0ff3f"/><circle cx="295" cy="319" r="1.5" stroke="#c6ff39"/><circle cx="302" cy="333" r="1.5" stroke="#bfff40"/><circle cx="295" cy="329" r="1.5" stroke="#bfff40"/><circle cx="305" cy="344" r="1.5" stroke="#b1ff4e"/><circle cx="312" cy="338" r="1.5" stroke="#c7ff38"/><circle cx="285" cy="341" r="1.5" stroke="#aeff51"/><circle cx="298" cy="323" r="1.5" stroke="#c4ff3b"/><circle cx="297" cy="327" r="1.5" stroke="#c4ff3b"/><circle cx="298" cy="330" r="1.5" stroke="#bdff42"/><circle cx="301" cy="321" r="1.5" stroke="#b9ff46"/><circle cx="294" cy="325" r="1.5" stroke="#c6ff39"/><circle cx="294" cy="326" r="1.5" stroke="#b0ff4f"/><circle cx="305" cy="326" r="1.5" stroke="#b6ff49"/><circle cx="299" cy="323" r="1.5" stroke="#c3ff3c"/><circle cx="297" cy="318" r="1.5" stroke="#afff50"/><circle cx="295" cy="319" r="1.5" stroke="#b3ff4c"/><circle cx="295" cy="325" r="1.5" stroke="#c0ff3f"/><circle cx="297" cy="328" r="1.5" stroke="#bcff43"/><circle cx="301" cy="321" r="1.5" stroke="#b4ff4b"/><circle cx="299" cy="336" r="1.5" stroke="#bbff44"/><circle cx="294" cy="325" r="1.5" stroke="#b3ff4c"/><circle cx="303" cy="328" r="1.5" stroke="#b3ff4c"/><circle cx="300" cy="324" r="1.5" stroke="#b9ff46"/><circle cx="301" cy="329" r="1.5" stroke="#b8ff47"/><circle cx="305" cy="338" r="1.5" stroke="#a9ff56"/><circle cx="296" cy="329" r="1.5" stroke="#b6ff49"/><circle cx="289" cy="327" r="1.5" stroke="#b9ff46"/><circle cx="291" cy="321" r="1.5" stroke="#b8ff47"/><circle cx="286" cy="337" r="1.5" stroke="#c4ff3b"/><circle cx="296" cy="324" r="1.5" stroke="#b0ff4f"/><circle cx="312" cy="341" r="1.5" stroke="#beff41"/><circle cx="304" cy="331" r="1.5" stroke="#bdff42"/><circle cx="306" cy="330" r="1.5" stroke="#bcff43"/><circle cx="297" cy="324" r="1.5" stroke="#c2ff3d"/><circle cx="301" cy="339" r="1.5" stroke="#a9ff56"/><circle cx="295" cy="329" r="1.5" stroke="#aeff51"/><circle cx="296" cy="332" r="1.5" stroke="#c6ff39"/><circle cx="301" cy="319" r="1.5" stroke="#b4ff4b"/><circle cx="291" cy="331" r="1.5" stroke="#c3ff3c"/><circle cx="305" cy="328" r="1.5" stroke="#b4ff4b"/><circle cx="304" cy="320" r="1.5" stroke="#baff45"/><circle cx="297" cy="337" r="1.5" stroke="#c7ff38"/><circle cx="302" cy="325" r="1.5" stroke="#acff53"/><circle cx="298" cy="335" r="1.5" stroke="#c2ff3d"/><circle cx="295" cy="331" r="1.5" stroke="#cbff34"/><circle cx="298" cy="325" r="1.5" stroke="#c2ff3d"/><circle cx="297" cy="336" r="1.5" stroke="#bcff43"/><circle cx="293" cy="323" r="1.5" stroke="#beff41"/><circle cx="310" cy="325" r="1.5" stroke="#c9ff36"/><circle cx="305" cy="318" r="1.5" stroke="#afff50"/><circle cx="307" cy="338" r="1.5" stroke="#b4ff4b"/><circle cx="300" cy="330" r="1.5" stroke="#a9ff56"/><circle cx="296" cy="326" r="1.5" stroke="#c8ff37"/><circle cx="302" cy="333" r="1.5" stroke="#afff50"/><circle cx="297" cy="332" r="1.5" stroke="#aaff55"/><circle cx="300" cy="326" r="1.5" stroke="#abff54"/><circle cx="290" cy="323" r="1.5" stroke="#b3ff4c"/><circle cx="308" cy="323" r="1.5" stroke="#adff52"/><circle cx="302" cy="338" r="1.5" stroke="#b8ff47"/><circle cx="299" cy="323" r="1.5" stroke="#abff54"/><circle cx="294" cy="328" r="1.5" stroke="#c3ff3c"/><circle cx="304" cy="335" r="1.5" stroke="#c9ff36"/><circle cx="296" cy="330" r="1.5" stroke="#b9ff46"/><circle cx="291" cy="330" r="1.5" stroke="#acff53"/><circle cx="311" cy="330" r="1.5" stroke="#baff45"/><circle cx="290" cy="326" r="1.5" stroke="#adff52"/><circle cx="294" cy="334" r="1.5" stroke="#a8ff57"/><circle cx="307" cy="333" r="1.5" stroke="#b4ff4b"/><circle cx="308" cy="331" r="1.5" stroke="#b2ff4d"/><circle cx="304" cy="327" r="1.5" stroke="#a8ff57"/><circle cx="292" cy="329" r="1.5" stroke="#abff54"/><circle cx="309" cy="331" r="1.5" stroke="#b5ff4a"/><circle cx="292" cy="339" r="1.5" stroke="#beff41"/><circle cx="291" cy="331" r="1.5" stroke="#afff50"/><circle cx="301" cy="336" r="1.5" stroke="#bcff43"/><circle cx="288" cy="326" r="1.5" stroke="#c1ff3e"/><circle cx="302" cy="324" r="1.5" stroke="#b9ff46"/><circle cx="298" cy="336" r="1.5" stroke="#a8ff57"/><circle cx="293" cy="321" r="1.5" stroke="#bfff40"/><circle cx="297" cy="334" r="1.5" stroke="#b6ff49"/><circle cx="292" cy="322" r="1.5" stroke="#caff35"/><circle cx="297" cy="318" r="1.5" stroke="#b7ff48"/><circle cx="304" cy="331" r="1.5" stroke="#cbff34"/><circle cx="304" cy="342" r="1.5" stroke="#b5ff4a"/><circle cx="293" cy="321" r="1.5" stroke="#aaff55"/><circle cx="292" cy="324" r="1.5" stroke="#b4ff4b"/><circle cx="296" cy="322" r="1.5" stroke="#b3ff4c"/><circle cx="301" cy="338" r="1.5" stroke="#bbff44"/><circle cx="299" cy="327" r="1.5" stroke="#c5ff3a"/><circle cx="310" cy="332" r="1.5" stroke="#aaff55"/><circle cx="296" cy="325" r="1.5" stroke="#adff52"/><circle cx="301" cy="322" r="1.5" stroke="#c2ff3d"/><circle cx="297" cy="335" r="1.5" stroke="#c0ff3f"/><circle cx="291" cy="333" r="1.5" stroke="#a9ff56"/><circle cx="307" cy="332" r="1.5" stroke="#caff35"/><circle cx="307" cy="337" r="1.5" stroke="#b6ff49"/><circle cx="305" cy="326" r="1.5" stroke="#cbff34"/><circle cx="293" cy="335" r="1.5" stroke="#a9ff56"/><circle cx="306" cy="329" r="1.5" stroke="#bcff43"/><circle cx="306" cy="334" r="1.5" stroke="#c3ff3c"/><circle cx="300" cy="330" r="1.5" stroke="#cbff34"/><circle cx="298" cy="327" r="1.5" stroke="#a8ff57"/><circle cx="310" cy="336" r="1.5" stroke="#c7ff38"/><circle cx="309" cy="331" r="1.5" stroke="#c2ff3d"/><circle cx="299" cy="326" r="1.5" stroke="#c9ff36"/><circle cx="300" cy="320" r="1.5" stroke="#acff53"/><circle cx="299" cy="327" r="1.5" stroke="#b4ff4b"/><circle cx="297" cy="323" r="1.5" stroke="#a9ff56"/><circle cx="299" cy="344" r="1.5" stroke="#b1ff4e"/><circle cx="300" cy="330" r="1.5" stroke="#b4ff4b"/><circle cx="300" cy="327" r="1.5" stroke="#c0ff3f"/><circle cx="299" cy="326" r="1.5" stroke="#acff53"/><circle cx="297" cy="330" r="1.5" stroke="#beff41"/><circle cx="293" cy="327" r="1.5" stroke="#b3ff4c"/><circle cx="306" cy="338" r="1.5" stroke="#beff41"/><circle cx="294" cy="323" r="1.5" stroke="#bcff43"/><circle cx="291" cy="336" r="1.5" stroke="#a9ff56"/><circle cx="301" cy="322" r="1.5" stroke="#c1ff3e"/><circle cx="315" cy="335" r="1.5" stroke="#b2ff4d"/><circle cx="302" cy="325" r="1.5" stroke="#b5ff4a"/><circle cx="311" cy="328" r="1.5" stroke="#b5ff4a"/><circle cx="297" cy="335" r="1.5" stroke="#abff54"/><circle cx="292" cy="336" r="1.5" stroke="#b5ff4a"/><circle cx="308" cy="323" r="1.5" stroke="#c1ff3e"/><circle cx="304" cy="330" r="1.5" stroke="#bcff43"/><circle cx="289" cy="324" r="1.5" stroke="#abff54"/><circle cx="311" cy="332" r="1.5" stroke="#aeff51"/><circle cx="305" cy="324" r="1.5" stroke="#c1ff3e"/><circle cx="306" cy="321" r="1.5" stroke="#b2ff4d"/><circle cx="304" cy="327" r="1.5" stroke="#c8ff37"/><circle cx="288" cy="326" r="1.5" stroke="#c4ff3b"/><circle cx="299" cy="316" r="1.5" stroke="#c3ff3c"/><circle cx="292" cy="324" r="1.5" stroke="#baff45"/><circle cx="300" cy="334" r="1.5" stroke="#b0ff4f"/><circle cx="301" cy="323" r="1.5" stroke="#c8ff37"/><circle cx="303" cy="320" r="1.5" stroke="#c3ff3c"/><circle cx="287" cy="324" r="1.5" stroke="#abff54"/><circle cx="292" cy="329" r="1.5" stroke="#b6ff49"/><circle cx="301" cy="333" r="1.5" stroke="#c5ff3a"/><circle cx="297" cy="324" r="1.5" stroke="#b7ff48"/><circle cx="293" cy="334" r="1.5" stroke="#c6ff39"/><circle cx="320" cy="335" r="1.5" stroke="#beff41"/><circle cx="306" cy="335" r="1.5" stroke="#afff50"/><circle cx="304" cy="336" r="1.5" stroke="#bfff40"/><circle cx="298" cy="329" r="1.5" stroke="#caff35"/><circle cx="312" cy="329" r="1.5" stroke="#baff45"/><circle cx="295" cy="328" r="1.5" stroke="#afff50"/><circle cx="285" cy="336" r="1.5" stroke="#afff50"/><circle cx="306" cy="316" r="1.5" stroke="#c2ff3d"/><circle cx="303" cy="330" r="1.5" stroke="#c5ff3a"/><circle cx="301" cy="330" r="1.5" stroke="#b7ff48"/><circle cx="304" cy="325" r="1.5" stroke="#a9ff56"/><circle cx="301" cy="328" r="1.5" stroke="#b6ff49"/><circle cx="296" cy="331" r="1.5" stroke="#a8ff57"/><circle cx="299" cy="337" r="1.5" stroke="#b4ff4b"/><circle cx="308" cy="327" r="1.5" stroke="#bdff42"/><circle cx="295" cy="331" r="1.5" stroke="#a8ff57"/><circle cx="303" cy="329" r="1.5" stroke="#caff35"/><circle cx="299" cy="335" r="1.5" stroke="#abff54"/><circle cx="309" cy="323" r="1.5" stroke="#c9ff36"/><circle cx="301" cy="321" r="1.5" stroke="#b4ff4b"/><circle cx="301" cy="329" r="1.5" stroke="#c6ff39"/><circle cx="299" cy="316" r="1.5" stroke="#b3ff4c"/><circle cx="296" cy="337" r="1.5" stroke="#b0ff4f"/><circle cx="303" cy="333" r="1.5" stroke="#c2ff3d"/><circle cx="304" cy="334" r="1.5" stroke="#c5ff3a"/><circle cx="299" cy="333" r="1.5" stroke="#b3ff4c"/><circle cx="309" cy="330" r="1.5" stroke="#c4ff3b"/><circle cx="313" cy="332" r="1.5" stroke="#c3ff3c"/><circle cx="311" cy="325" r="1.5" stroke="#abff54"/><circle cx="303" cy="334" r="1.5" stroke="#c8ff37"/><circle cx="310" cy="325" r="1.5" stroke="#b4ff4b"/><circle cx="294" cy="331" r="1.5" stroke="#adff52"/><circle cx="290" cy="331" r="1.5" stroke="#c6ff39"/><circle cx="299" cy="331" r="1.5" stroke="#b1ff4e"/><circle cx="296" cy="328" r="1.5" stroke="#acff53"/><circle cx="298" cy="335" r="1.5" stroke="#c6ff39"/><circle cx="297" cy="340" r="1.5" stroke="#bfff40"/><circle cx="303" cy="335" r="1.5" stroke="#c0ff3f"/><circle cx="302" cy="328" r="1.5" stroke="#a8ff57"/><circle cx="312" cy="334" r="1.5" stroke="#b3ff4c"/><circle cx="301" cy="336" r="1.5" stroke="#c1ff3e"/><circle cx="299" cy="333" r="1.5" stroke="#beff41"/><circle cx="321" cy="328" r="1.5" stroke="#aaff55"/><circle cx="303" cy="332" r="1.5" stroke="#abff54"/><circle cx="308" cy="333" r="1.5" stroke="#c1ff3e"/><circle cx="300" cy="329" r="1.5" stroke="#aeff51"/><circle cx="297" cy="332" r="1.5" stroke="#cbff34"/><circle cx="303" cy="323" r="1.5" stroke="#c4ff3b"/><circle cx="286" cy="335" r="1.5" stroke="#c3ff3c"/><circle cx="296" cy="328" r="1.5" stroke="#c5ff3a"/><circle cx="300" cy="320" r="1.5" stroke="#c4ff3b"/><circle cx="301" cy="331" r="1.5" stroke="#b5ff4a"/><circle cx="294" cy="330" r="1.5" stroke="#c4ff3b"/><circle cx="291" cy="324" r="1.5" stroke="#aeff51"/><circle cx="295" cy="328" r="1.5" stroke="#c9ff36"/><circle cx="298" cy="324" r="1.5" stroke="#b1ff4e"/><circle cx="310" cy="333" r="1.5" stroke="#bfff40"/><circle cx="306" cy="320" r="1.5" stroke="#b9ff46"/><circle cx="313" cy="331" r="1.5" stroke="#baff45"/><circle cx="302" cy="326" r="1.5" stroke="#c4ff3b"/><circle cx="302" cy="325" r="1.5" stroke="#c5ff3a"/><circle cx="293" cy="335" r="1.5" stroke="#cbff34"/><circle cx="292" cy="329" r="1.5" stroke="#b9ff46"/><circle cx="306" cy="336" r="1.5" stroke="#aeff51"/><circle cx="303" cy="326" r="1.5" stroke="#b1ff4e"/><circle cx="291" cy="336" r="1.5" stroke="#c9ff36"/><circle cx="310" cy="319" r="1.5" stroke="#b9ff46"/><circle cx="290" cy="350" r="1.5" stroke="#afff50"/><circle cx="308" cy="353" r="1.5" stroke="#beff41"/><circle cx="297" cy="354" r="1.5" stroke="#bdff42"/><circle cx="296" cy="350" r="1.5" stroke="#c5ff3a"/><circle cx="295" cy="347" r="1.5" stroke="#c9ff36"/><circle cx="291" cy="346" r="1.5" stroke="#b0ff4f"/><circle cx="295" cy="348" r="1.5" stroke="#9fff60"/><circle cx="296" cy="349" r="1.5" stroke="#c3ff3c"/><circle cx="291" cy="351" r="1.5" stroke="#bcff43"/><circle cx="299" cy="355" r="1.5" stroke="#c3ff3c"/><circle cx="289" cy="344" r="1.5" stroke="#c2ff3d"/><circle cx="289" cy="347" r="1.5" stroke="#c1ff3e"/><circle cx="301" cy="338" r="1.5" stroke="#b6ff49"/><circle cx="288" cy="357" r="1.5" stroke="#b0ff4f"/><circle cx="288" cy="360" r="1.5" stroke="#a3ff5c"/><circle cx="294" cy="355" r="1.5" stroke="#b9ff46"/><circle cx="284" cy="358" r="1.5" stroke="#a2ff5d"/><circle cx="303" cy="345" r="1.5" stroke="#a0ff5f"/><circle cx="301" cy="353" r="1.5" stroke="#9aff65"/><circle cx="299" cy="349" r="1.5" stroke="#b5ff4a"/><circle cx="293" cy="347" r="1.5" stroke="#afff50"/><circle cx="300" cy="354" r="1.5" stroke="#b1ff4e"/><circle cx="298" cy="351" r="1.5" stroke="#9aff65"/><circle cx="298" cy="337" r="1.5" stroke="#aaff55"/><circle cx="324" cy="293" r="1.5" stroke="#a6ff59"/><circle cx="329" cy="306" r="1.5" stroke="#c5ff3a"/><circle cx="315" cy="300" r="1.5" stroke="#b7ff48"/><circle cx="328" cy="300" r="1.5" stroke="#c5ff3a"/><circle cx="310" cy="303" r="1.5" stroke="#a3ff5c"/><circle cx="316" cy="309" r="1.5" stroke="#b2ff4d"/><circle cx="326" cy="309" r="1.5" stroke="#a3ff5c"/><circle cx="312" cy="304" r="1.5" stroke="#bbff44"/><circle cx="314" cy="303" r="1.5" stroke="#ccff33"/><circle cx="323" cy="307" r="1.5" stroke="#beff41"/><circle cx="317" cy="308" r="1.5" stroke="#cdff32"/><circle cx="303" cy="301" r="1.5" stroke="#b4ff4b"/><circle cx="308" cy="301" r="1.5" stroke="#c8ff37"/><circle cx="316" cy="298" r="1.5" stroke="#b7ff48"/><circle cx="311" cy="300" r="1.5" stroke="#c2ff3d"/><circle cx="318" cy="308" r="1.5" stroke="#b8ff47"/><circle cx="310" cy="309" r="1.5" stroke="#d1ff2e"/><circle cx="308" cy="313" r="1.5" stroke="#c6ff39"/><circle cx="238" cy="275" r="1.5" stroke="#a9ff56"/><circle cx="275" cy="277" r="1.5" stroke="#b1ff4e"/><circle cx="298" cy="287" r="1.5" stroke="#b1ff4e"/><circle cx="289" cy="290" r="1.5" stroke="#c1ff3e"/><circle cx="296" cy="296" r="1.5" stroke="#b1ff4e"/><circle cx="295" cy="302" r="1.5" stroke="#b1ff4e"/><circle cx="372" cy="250" r="1.5" stroke="#b1ff4e"/><circle cx="346" cy="279" r="1.5" stroke="#c1ff3e"/><circle cx="332" cy="284" r="1.5" stroke="#a0ff5f"/><circle cx="346" cy="287" r="1.5" stroke="#b9ff46"/><circle cx="361" cy="291" r="1.5" stroke="#b9ff46"/><circle cx="322" cy="291" r="1.5" stroke="#a0ff5f"/><circle cx="328" cy="294" r="1.5" stroke="#b1ff4e"/><circle cx="332" cy="295" r="1.5" stroke="#b9ff46"/><circle cx="349" cy="295" r="1.5" stroke="#b1ff4e"/><circle cx="306" cy="292" r="1.5" stroke="#b1ff4e"/><circle cx="311" cy="292" r="1.5" stroke="#a0ff5f"/><circle cx="306" cy="294" r="1.5" stroke="#b1ff4e"/><circle cx="311" cy="296" r="1.5" stroke="#a0ff5f"/><circle cx="311" cy="298" r="1.5" stroke="#b1ff4e"/><circle cx="315" cy="298" r="1.5" stroke="#d2ff2d"/><circle cx="302" cy="301" r="1.5" stroke="#d2ff2d"/><circle cx="306" cy="302" r="1.5" stroke="#d2ff2d"/><circle cx="316" cy="302" r="1.5" stroke="#d2ff2d"/><circle cx="321" cy="302" r="1.5" stroke="#c1ff3e"/><circle cx="340" cy="301" r="1.5" stroke="#b1ff4e"/><circle cx="335" cy="304" r="1.5" stroke="#b1ff4e"/><circle cx="331" cy="304" r="1.5" stroke="#daff25"/><circle cx="312" cy="304" r="1.5" stroke="#c1ff3e"/><circle cx="318" cy="304" r="1.5" stroke="#c1ff3e"/><circle cx="306" cy="304" r="1.5" stroke="#d2ff2d"/><circle cx="434" cy="281" r="1.5" stroke="#b1ff4e"/><circle cx="222" cy="350" r="1.5" stroke="#ffe500"/><circle cx="258" cy="311" r="1.5" stroke="#a9ff56"/><circle cx="268" cy="306" r="1.5" stroke="#c1ff3e"/><circle cx="275" cy="308" r="1.5" stroke="#b9ff46"/><circle cx="279" cy="309" r="1.5" stroke="#b1ff4e"/><circle cx="259" cy="318" r="1.5" stroke="#b9ff46"/><circle cx="253" cy="322" r="1.5" stroke="#a9ff56"/><circle cx="268" cy="314" r="1.5" stroke="#b9ff46"/><circle cx="268" cy="318" r="1.5" stroke="#b1ff4e"/><circle cx="272" cy="319" r="1.5" stroke="#b9ff46"/><circle cx="271" cy="323" r="1.5" stroke="#b1ff4e"/><circle cx="268" cy="326" r="1.5" stroke="#b9ff46"/><circle cx="266" cy="329" r="1.5" stroke="#b9ff46"/><circle cx="265" cy="331" r="1.5" stroke="#b9ff46"/><circle cx="256" cy="332" r="1.5" stroke="#b9ff46"/><circle cx="263" cy="336" r="1.5" stroke="#c1ff3e"/><circle cx="247" cy="340" r="1.5" stroke="#a9ff56"/><circle cx="260" cy="341" r="1.5" stroke="#b9ff46"/><circle cx="261" cy="345" r="1.5" stroke="#a0ff5f"/><circle cx="261" cy="348" r="1.5" stroke="#a0ff5f"/><circle cx="267" cy="345" r="1.5" stroke="#d2ff2d"/><circle cx="254" cy="354" r="1.5" stroke="#a9ff56"/><circle cx="263" cy="359" r="1.5" stroke="#daff25"/><circle cx="275" cy="356" r="1.5" stroke="#a9ff56"/><circle cx="275" cy="349" r="1.5" stroke="#b9ff46"/><circle cx="279" cy="351" r="1.5" stroke="#c1ff3e"/><circle cx="282" cy="349" r="1.5" stroke="#c1ff3e"/><circle cx="289" cy="352" r="1.5" stroke="#a9ff56"/><circle cx="281" cy="359" r="1.5" stroke="#b1ff4e"/><circle cx="286" cy="362" r="1.5" stroke="#a0ff5f"/><circle cx="286" cy="367" r="1.5" stroke="#a0ff5f"/><circle cx="293" cy="366" r="1.5" stroke="#a9ff56"/><circle cx="295" cy="369" r="1.5" stroke="#b1ff4e"/><circle cx="295" cy="379" r="1.5" stroke="#b1ff4e"/><circle cx="274" cy="335" r="1.5" stroke="#d2ff2d"/><circle cx="272" cy="340" r="1.5" stroke="#daff25"/><circle cx="276" cy="334" r="1.5" stroke="#caff35"/><circle cx="280" cy="341" r="1.5" stroke="#d2ff2d"/><circle cx="280" cy="345" r="1.5" stroke="#caff35"/><circle cx="284" cy="346" r="1.5" stroke="#c1ff3e"/><circle cx="343" cy="309" r="1.5" stroke="#b9ff46"/><circle cx="330" cy="309" r="1.5" stroke="#b1ff4e"/><circle cx="335" cy="318" r="1.5" stroke="#c1ff3e"/><circle cx="329" cy="318" r="1.5" stroke="#b9ff46"/><circle cx="343" cy="326" r="1.5" stroke="#b9ff46"/><circle cx="340" cy="331" r="1.5" stroke="#a0ff5f"/><circle cx="348" cy="331" r="1.5" stroke="#b9ff46"/><circle cx="351" cy="332" r="1.5" stroke="#c1ff3e"/><circle cx="364" cy="336" r="1.5" stroke="#b1ff4e"/><circle cx="331" cy="332" r="1.5" stroke="#b9ff46"/><circle cx="328" cy="332" r="1.5" stroke="#c1ff3e"/><circle cx="330" cy="324" r="1.5" stroke="#b1ff4e"/><circle cx="329" cy="327" r="1.5" stroke="#a9ff56"/><circle cx="331" cy="340" r="1.5" stroke="#c1ff3e"/><circle cx="328" cy="341" r="1.5" stroke="#d2ff2d"/><circle cx="337" cy="346" r="1.5" stroke="#c1ff3e"/><circle cx="334" cy="348" r="1.5" stroke="#b9ff46"/><circle cx="331" cy="347" r="1.5" stroke="#caff35"/><circle cx="322" cy="347" r="1.5" stroke="#caff35"/><circle cx="321" cy="339" r="1.5" stroke="#caff35"/><circle cx="336" cy="362" r="1.5" stroke="#c1ff3e"/><circle cx="319" cy="361" r="1.5" stroke="#e2ff1d"/><circle cx="316" cy="360" r="1.5" stroke="#c1ff3e"/><circle cx="312" cy="360" r="1.5" stroke="#98ff67"/><circle cx="308" cy="358" r="1.5" stroke="#c1ff3e"/><circle cx="304" cy="358" r="1.5" stroke="#a0ff5f"/><circle cx="308" cy="367" r="1.5" stroke="#b9ff46"/><circle cx="302" cy="367" r="1.5" stroke="#c1ff3e"/><circle cx="306" cy="373" r="1.5" stroke="#caff35"/><circle cx="301" cy="373" r="1.5" stroke="#a9ff56"/><circle cx="309" cy="351" r="1.5" stroke="#caff35"/><circle cx="306" cy="351" r="1.5" stroke="#c1ff3e"/><circle cx="302" cy="351" r="1.5" stroke="#98ff67"/><circle cx="314" cy="347" r="1.5" stroke="#caff35"/><circle cx="317" cy="345" r="1.5" stroke="#c1ff3e"/><circle cx="229" cy="412" r="1.5" stroke="#b9ff46"/><circle cx="276" cy="412" r="1.5" stroke="#b9ff46"/><circle cx="287" cy="405" r="1.5" stroke="#b1ff4e"/><circle cx="295" cy="380" r="1.5" stroke="#b1ff4e"/><circle cx="314" cy="382" r="1.5" stroke="#c1ff3e"/><circle cx="307" cy="411" r="1.5" stroke="#e2ff1d"/><circle cx="432" cy="397" r="1.5" stroke="#b9ff46"/>
</g>
<path d="M292.1,315.0 L300.5,327.5 L304.6,312.9" fill="none" stroke="#dcdcdc" stroke-width="1.1" stroke-linejoin="miter"/>
<path d="M456.0,290.0 L464.4,302.5 L468.5,287.9" fill="none" stroke="#dcdcdc" stroke-width="1.1" stroke-linejoin="miter"/>
<path d="M128.3,340.2 L136.7,352.7 L140.8,338.1" fill="none" stroke="#dcdcdc" stroke-width="1.1" stroke-linejoin="miter"/>
<text class="nsew" x="281.5 288.5 295.5 302.5 309.5" y="56.5">North</text>
<text class="nsew" x="281.5 288.5 295.5 302.5 309.5" y="578">South</text>
<text class="nsew" x="16 23 30 37" y="317.6">West</text>
<text class="nsew" x="552.2 559.2 566.2 573.2" y="317.6">East</text>
<text class="tb" x="594.5 601.5 608.5 615.5 622.5 629.5 636.5 643.5 650.5 657.5 664.5 671.5 678.5 685.5 692.5 699.5 706.5 713.5 720.5 727.5 734.5 741.5 748.5 755.5 762.5 769.5 776.5 783.5" y="71">Num of Sources           946</text>
<text class="tb" x="594.5 601.5 608.5 615.5 622.5 629.5 636.5 643.5 650.5 657.5 664.5 671.5 678.5 685.5 692.5 699.5 706.5 713.5 720.5 727.5 734.5 741.5 748.5 755.5 762.5 769.5 776.5 783.5" y="85">Min Freq, kHz           4500</text>
<text class="tb" x="594.5 601.5 608.5 615.5 622.5 629.5 636.5 643.5 650.5 657.5 664.5 671.5 678.5 685.5 692.5 699.5 706.5 713.5 720.5 727.5 734.5 741.5 748.5 755.5 762.5 769.5 776.5 783.5" y="99">Max Freq, kHz           4850</text>
<text class="tb" x="594.5 601.5 608.5 615.5 622.5 629.5 636.5 643.5 650.5 657.5 664.5 671.5 678.5 685.5 692.5 699.5 706.5 713.5 720.5 727.5 734.5 741.5 748.5 755.5 762.5 769.5 776.5 783.5" y="113">Min Range, km            387</text>
<text class="tb" x="594.5 601.5 608.5 615.5 622.5 629.5 636.5 643.5 650.5 657.5 664.5 671.5 678.5 685.5 692.5 699.5 706.5 713.5 720.5 727.5 734.5 741.5 748.5 755.5 762.5 769.5 776.5 783.5" y="127">Max Range, km            450</text>
<text class="tb" x="594.5 601.5 608.5 615.5 622.5 629.5 636.5 643.5 650.5 657.5 664.5 671.5 678.5 685.5 692.5 699.5 706.5 713.5 720.5 727.5 734.5 741.5 748.5 755.5 762.5 769.5 776.5 783.5" y="141">Max Amp, dB               63</text>
<text class="tb" x="594.5 601.5 608.5 615.5 622.5 629.5 636.5 643.5 650.5 657.5 664.5 671.5 678.5 685.5 692.5 699.5 706.5 713.5 720.5 727.5 734.5 741.5 748.5 755.5 762.5 769.5 776.5 783.5" y="155">Max SNR Amp, dB           55</text>
<text class="tb" x="594.5 601.5 608.5 615.5 622.5 629.5 636.5 643.5 650.5 657.5 664.5 671.5 678.5 685.5 692.5 699.5 706.5 713.5 720.5 727.5 734.5 741.5 748.5 755.5 762.5 769.5 776.5 783.5" y="169">Min SNR Amp, dB           12</text>
<text class="tb" x="594.5 601.5 608.5 615.5 622.5 629.5 636.5 643.5 650.5 657.5 664.5 671.5 678.5 685.5 692.5 699.5 706.5 713.5 720.5 727.5 734.5 741.5 748.5 755.5 762.5 769.5 776.5 783.5" y="183">Avg SNR Amp, dB           26</text>
<text class="tb" x="594.5 601.5 608.5 615.5 622.5 629.5 636.5 643.5 650.5 657.5 664.5 671.5 678.5 685.5 692.5 699.5 706.5 713.5 720.5 727.5 734.5 741.5 748.5 755.5 762.5 769.5 776.5 783.5" y="197">Max RMS Err, deg        12.0</text>
<text class="tb" x="594.5 601.5 608.5 615.5 622.5 629.5 636.5 643.5 650.5 657.5 664.5 671.5 678.5 685.5 692.5 699.5 706.5 713.5 720.5 727.5 734.5 741.5 748.5 755.5 762.5 769.5 776.5 783.5" y="211">Min RMS Err, deg         0.0</text>
<text class="tb" x="594.5 601.5 608.5 615.5 622.5 629.5 636.5 643.5 650.5 657.5 664.5 671.5 678.5 685.5 692.5 699.5 706.5 713.5 720.5 727.5 734.5 741.5 748.5 755.5 762.5 769.5 776.5 783.5" y="225">Avg RMS Err, deg         3.6</text>
<text class="tb" x="594.5 601.5 608.5 615.5 622.5 629.5 636.5 643.5 650.5 657.5 664.5 671.5 678.5 685.5 692.5 699.5 706.5 713.5 720.5 727.5 734.5 741.5 748.5 755.5 762.5 769.5 776.5 783.5" y="239">Doppler Res, Hz       0.0488</text>
<text class="tb" x="594.5 601.5 608.5 615.5 622.5 629.5 636.5 643.5 650.5 657.5 664.5 671.5 678.5 685.5 692.5 699.5 706.5 713.5 720.5 727.5 734.5 741.5 748.5 755.5 762.5 769.5 776.5 783.5" y="253">CIT, sec               20.48</text>
<text class="tb" x="594.5 601.5 608.5 615.5 622.5 629.5 636.5 643.5 650.5 657.5 664.5 671.5 678.5 685.5 692.5 699.5 706.5 713.5 720.5 727.5 734.5 741.5 748.5 755.5 762.5 769.5 776.5 783.5" y="267">Num of CITs                6</text>
<text class="tb" x="594.5 601.5 608.5 615.5 622.5 629.5 636.5 643.5 650.5 657.5 664.5 671.5 678.5 685.5 692.5 699.5 706.5 713.5 720.5 727.5 734.5 741.5 748.5 755.5 762.5 769.5 776.5 783.5" y="281">Polarization          O-mode</text>
<text class="tb" x="594.5 601.5 608.5 615.5 622.5 629.5 636.5 643.5 650.5 657.5 664.5 671.5 678.5 685.5 692.5 699.5 706.5 713.5 720.5 727.5 734.5 741.5 748.5 755.5 762.5 769.5 776.5 783.5" y="295">Center of Sources, deg:     </text>
<text class="tb" x="594.5 601.5 608.5 615.5 622.5 629.5 636.5 643.5 650.5 657.5 664.5 671.5 678.5 685.5 692.5 699.5 706.5 713.5 720.5 727.5 734.5 741.5 748.5 755.5 762.5 769.5 776.5 783.5" y="309">          Zenith         2.6</text>
<text class="tb" x="594.5 601.5 608.5 615.5 622.5 629.5 636.5 643.5 650.5 657.5 664.5 671.5 678.5 685.5 692.5 699.5 706.5 713.5 720.5 727.5 734.5 741.5 748.5 755.5 762.5 769.5 776.5 783.5" y="323">          Azimuth        187</text>
<path d="M725.7,320.4 C725.9,318.2 724.4,317.2 722.9,317.8 C722,318.2 721.5,319 721.3,319.9" fill="none" stroke="#222" stroke-width="1.15"/>
<path d="M719.9,318.3 L720.9,321.4 L723.7,320.1 Z" fill="#222"/>
<defs><linearGradient id="jet" x1="0" y1="0" x2="0" y2="1"><stop offset="0" stop-color="#0000c4"/><stop offset="0.06" stop-color="#0000ff"/><stop offset="0.1" stop-color="#0000ff"/><stop offset="0.355" stop-color="#00ffff"/><stop offset="0.5" stop-color="#80ff80"/><stop offset="0.645" stop-color="#ffff00"/><stop offset="0.93" stop-color="#ff0000"/><stop offset="1" stop-color="#c00000"/></linearGradient></defs>
<rect x="593" y="341" width="15" height="242" fill="url(#jet)"/>
<line x1="608.5" y1="341" x2="608.5" y2="583" stroke="#000" stroke-width="1" shape-rendering="crispEdges"/>
<path d="M609,341.5h6M609,345.5h6M609,349.5h3M609,353.5h3M609,357.5h3M609,361.5h3M609,365.5h6M609,369.5h3M609,372.5h3M609,376.5h3M609,380.5h3M609,384.5h6M609,388.5h3M609,392.5h3M609,396.5h3M609,400.5h3M609,403.5h6M609,407.5h3M609,411.5h3M609,415.5h3M609,419.5h3M609,423.5h6M609,427.5h3M609,430.5h3M609,434.5h3M609,438.5h3M609,442.5h6M609,446.5h3M609,450.5h3M609,454.5h3M609,457.5h3M609,461.5h6M609,465.5h3M609,469.5h3M609,473.5h3M609,477.5h3M609,481.5h6M609,485.5h3M609,489.5h3M609,492.5h3M609,496.5h3M609,500.5h6M609,504.5h3M609,508.5h3M609,512.5h3M609,516.5h3M609,520.5h6M609,523.5h3M609,527.5h3M609,531.5h3M609,535.5h3M609,539.5h6M609,543.5h3M609,547.5h3M609,551.5h3M609,554.5h3M609,558.5h6M609,562.5h3M609,566.5h3M609,570.5h3M609,574.5h3M609,578.5h6M609,582.5h6" stroke="#000" stroke-width="1" fill="none" shape-rendering="crispEdges"/>
<text class="cb" x="617.1" y="345.2">3.1</text>
<text class="cb" x="617.1" y="369.2">2.5</text>
<text class="cb" x="617.1" y="388.2">2.0</text>
<text class="cb" x="617.1" y="407.2">1.5</text>
<text class="cb" x="617.1" y="427.2">1.0</text>
<text class="cb" x="617.1" y="446.2">0.5</text>
<text class="cb" x="617.1" y="465.2">0</text>
<text class="cb" x="617.1" y="485.2">-0.5</text>
<text class="cb" x="617.1" y="504.2">-1.0</text>
<text class="cb" x="617.1" y="524.2">-1.5</text>
<text class="cb" x="617.1" y="543.2">-2.0</text>
<text class="cb" x="617.1" y="562.2">-2.5</text>
<text class="cb" x="617.1" y="586.2">-3.1</text>
<text class="dp" transform="translate(656.5,491.5) rotate(-90)">Doppler, Hz</text>
<path d="M669.5,402.5h8M673.5,398.5v8" stroke="#0000e6" stroke-width="1.2" fill="none"/>
<text class="lg" x="682.5" y="406.2" fill="#0000e6">Positive</text>
<circle cx="673.3" cy="522.6" r="2.6" fill="none" stroke="#f00000" stroke-width="1.1"/>
<text class="lg" x="682.5" y="526.2" fill="#f00000">Negative</text>
<text class="it" x="12" y="572">V</text><text class="sb" x="19.5" y="576">h</text><text class="it" x="25 32 39 46 53 60 67 74 81 88" y="572"> = 44 ± 17</text><text class="rg" x="95 102 109 116" y="572"> m/s</text>
<text class="it" x="12 19 26 33 40 47 54 61 68 75 82 89 96 103 110 117 124 131 138 145 152 159" y="592.5">Geographic coordinates</text>
<text class="it" x="474" y="572">V</text><text class="sb" x="481.5" y="576">z</text><text class="it" x="488 495 502 509 516 523 530 537 544" y="572"> = 15 ± 1</text><text class="rg" x="551 558 565 572" y="572"> m/s</text>
<text class="it" x="419 426 433 440 447 454 461 468 475 482 489 496 503 510" y="592.5">Zenith: max 40</text><text class="it" x="516" y="592.5">°</text><text class="it" x="521 528 535 542 549 556 563 570" y="592.5">  step 5</text><text class="it" x="576" y="592.5">°</text>
<text class="ft" x="654.5" y="592.5"><tspan style="letter-spacing:-0.43px">ShowSkymap</tspan> v 1.0   SD v 5.1</text>
</svg>
</body></html>
